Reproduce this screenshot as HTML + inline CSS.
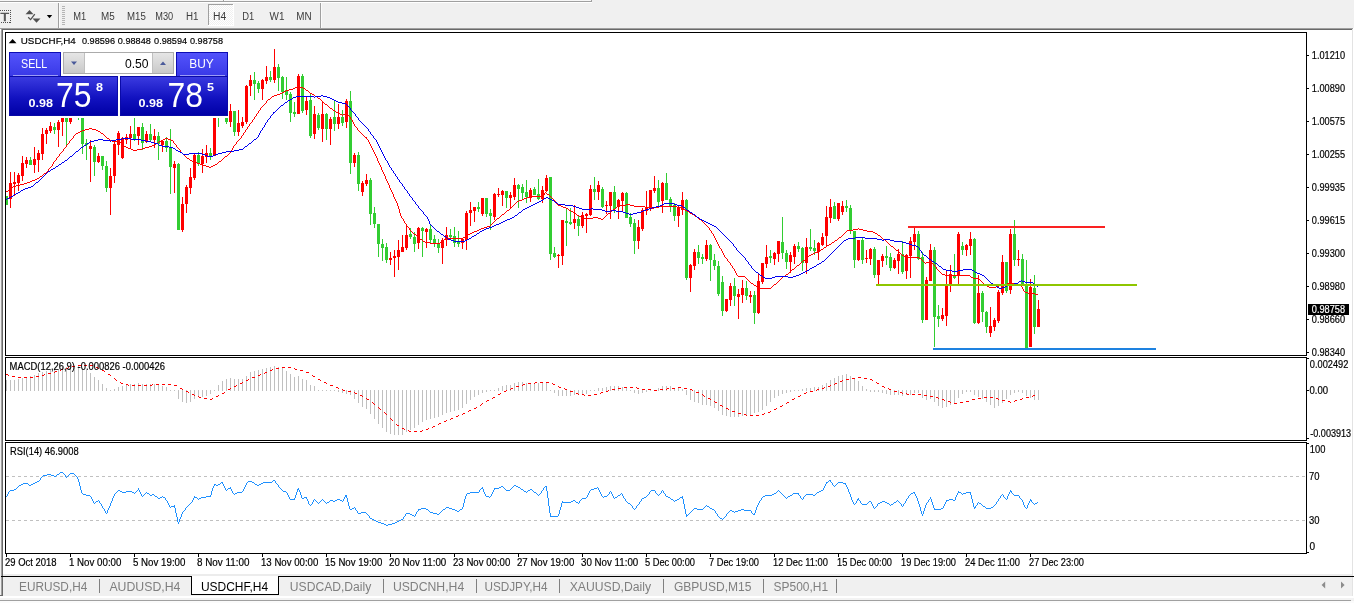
<!DOCTYPE html>
<html lang="en"><head><meta charset="utf-8"><title>USDCHF,H4</title>
<style>html,body{margin:0;padding:0;background:#f0f0f0;overflow:hidden}svg{display:block}text{font-family:"Liberation Sans", sans-serif;white-space:pre}</style>
</head><body>
<svg width="1354" height="603" viewBox="0 0 1354 603" shape-rendering="crispEdges">
<defs>
<linearGradient id="gBtn" x1="0" y1="0" x2="0" y2="1"><stop offset="0" stop-color="#5353fb"/><stop offset="1" stop-color="#3838e6"/></linearGradient>
<linearGradient id="gPrice" x1="0" y1="0" x2="0" y2="1"><stop offset="0" stop-color="#3a3ae0"/><stop offset="0.55" stop-color="#1212c0"/><stop offset="1" stop-color="#0000a6"/></linearGradient>
<linearGradient id="gSpin" x1="0" y1="0" x2="0" y2="1"><stop offset="0" stop-color="#e6e6e6"/><stop offset="1" stop-color="#c9c9c9"/></linearGradient>
<pattern id="chk" width="2" height="2" patternUnits="userSpaceOnUse"><rect width="2" height="2" fill="#fff"/><rect width="1" height="1" fill="#f0f0f0"/><rect x="1" y="1" width="1" height="1" fill="#f0f0f0"/></pattern>
<clipPath id="cMain"><rect x="6" y="33" width="1300" height="322"/></clipPath>
<clipPath id="cMacd"><rect x="6" y="358" width="1300" height="82"/></clipPath>
<clipPath id="cRsi"><rect x="6" y="443" width="1300" height="110"/></clipPath>
</defs>
<rect x="0" y="0" width="1354" height="603" fill="#f0f0f0"/>
<g id="toolbar">
<rect x="0" y="0" width="592" height="1" fill="#f7f7f7"/>
<rect x="0" y="1" width="592" height="1" fill="#a0a0a0"/>
<rect x="0" y="2" width="592" height="1" fill="#ffffff"/>
<rect x="223" y="0" width="1" height="2" fill="#a0a0a0"/>
<rect x="591" y="0" width="1" height="2" fill="#a0a0a0"/>
<rect x="224" y="0" width="1" height="1" fill="#fff"/>
<rect x="0" y="10" width="1" height="1" fill="#505050"/>
<rect x="2" y="10" width="1" height="1" fill="#505050"/>
<rect x="4" y="10" width="1" height="1" fill="#505050"/>
<rect x="6" y="10" width="1" height="1" fill="#505050"/>
<rect x="8" y="10" width="1" height="1" fill="#505050"/>
<rect x="10" y="10" width="1" height="1" fill="#505050"/>
<rect x="1" y="22" width="1" height="1" fill="#505050"/>
<rect x="3" y="22" width="1" height="1" fill="#505050"/>
<rect x="5" y="22" width="1" height="1" fill="#505050"/>
<rect x="7" y="22" width="1" height="1" fill="#505050"/>
<rect x="9" y="22" width="1" height="1" fill="#505050"/>
<rect x="10" y="12" width="1" height="1" fill="#505050"/>
<rect x="10" y="14" width="1" height="1" fill="#505050"/>
<rect x="10" y="16" width="1" height="1" fill="#505050"/>
<rect x="10" y="18" width="1" height="1" fill="#505050"/>
<rect x="10" y="20" width="1" height="1" fill="#505050"/>
<rect x="10" y="22" width="1" height="1" fill="#505050"/>
<text x="0.6" y="21" font-size="11.2" fill="#505050" textLength="8.6" lengthAdjust="spacingAndGlyphs" stroke="#505050" stroke-width="0.5">T</text>
<path d="M29.5 10 L33.5 14.2 L25.5 14.2 Z" fill="#505050" shape-rendering="geometricPrecision"/>
<path d="M36.5 22.8 L40.5 18.4 L32.5 18.4 Z" fill="#505050" shape-rendering="geometricPrecision"/>
<path d="M28.2 17.2 L30.6 19.6 L34.8 14.2" fill="none" stroke="#505050" stroke-width="1.3" shape-rendering="geometricPrecision"/>
<path d="M46.8 15 L52.2 15 L49.5 18.2 Z" fill="#000" shape-rendering="geometricPrecision"/>
<rect x="58" y="3" width="1" height="25" fill="#a0a0a0"/>
<rect x="59" y="3" width="1" height="25" fill="#fbfbfb"/>
<rect x="62" y="6" width="3" height="1" fill="#b4b4b4"/>
<rect x="62" y="8" width="3" height="1" fill="#b4b4b4"/>
<rect x="62" y="10" width="3" height="1" fill="#b4b4b4"/>
<rect x="62" y="12" width="3" height="1" fill="#b4b4b4"/>
<rect x="62" y="14" width="3" height="1" fill="#b4b4b4"/>
<rect x="62" y="16" width="3" height="1" fill="#b4b4b4"/>
<rect x="62" y="18" width="3" height="1" fill="#b4b4b4"/>
<rect x="62" y="20" width="3" height="1" fill="#b4b4b4"/>
<rect x="62" y="22" width="3" height="1" fill="#b4b4b4"/>
<rect x="62" y="24" width="3" height="1" fill="#b4b4b4"/>
<rect x="208" y="4" width="26" height="22" fill="url(#chk)"/>
<rect x="208" y="4" width="26" height="1" fill="#a0a0a0"/>
<rect x="208" y="4" width="1" height="22" fill="#a0a0a0"/>
<rect x="208" y="25" width="26" height="1" fill="#fff"/>
<rect x="233" y="4" width="1" height="22" fill="#fff"/>
<text x="73.3" y="20" font-size="10" fill="#3c3c3c" textLength="13.0" lengthAdjust="spacingAndGlyphs">M1</text>
<text x="101" y="20" font-size="10" fill="#3c3c3c" textLength="13.7" lengthAdjust="spacingAndGlyphs">M5</text>
<text x="127" y="20" font-size="10" fill="#3c3c3c" textLength="18.8" lengthAdjust="spacingAndGlyphs">M15</text>
<text x="155.3" y="20" font-size="10" fill="#3c3c3c" textLength="17.9" lengthAdjust="spacingAndGlyphs">M30</text>
<text x="186" y="20" font-size="10" fill="#3c3c3c" textLength="12.5" lengthAdjust="spacingAndGlyphs">H1</text>
<text x="213" y="20" font-size="10" fill="#3c3c3c" textLength="13.2" lengthAdjust="spacingAndGlyphs">H4</text>
<text x="242.2" y="20" font-size="10" fill="#3c3c3c" textLength="12.0" lengthAdjust="spacingAndGlyphs">D1</text>
<text x="269.6" y="20" font-size="10" fill="#3c3c3c" textLength="14.9" lengthAdjust="spacingAndGlyphs">W1</text>
<text x="296.2" y="20" font-size="10" fill="#3c3c3c" textLength="15.3" lengthAdjust="spacingAndGlyphs">MN</text>
<rect x="320" y="3" width="1" height="25" fill="#a0a0a0"/>
<rect x="321" y="3" width="1" height="25" fill="#fbfbfb"/>
</g>
<rect x="0" y="28" width="1353" height="1" fill="#a0a0a0"/>
<rect x="1" y="29" width="1351" height="1" fill="#696969"/>
<rect x="1" y="28" width="1" height="568" fill="#a0a0a0"/>
<rect x="2" y="29" width="1" height="567" fill="#696969"/>
<rect x="1352" y="29" width="1" height="567" fill="#e3e3e3"/>
<rect x="1353" y="28" width="1" height="568" fill="#ffffff"/>
<rect x="3" y="30" width="1349" height="546" fill="#ffffff"/>
<rect x="0" y="29" width="1" height="2" fill="#fff"/>
<rect x="3" y="574" width="1349" height="2" fill="#ececec"/>
<rect x="1" y="576" width="1353" height="1" fill="#000"/>
<rect x="0" y="595" width="3" height="1" fill="#696969"/>
<rect x="0" y="596" width="1354" height="2" fill="#ffffff"/>
<rect x="0" y="598" width="1354" height="2" fill="#f3f3f3"/>
<rect x="0" y="600" width="1351" height="1" fill="#a0a0a0"/>
<rect x="0" y="601" width="1354" height="2" fill="#fbfbfb"/>
<rect x="192" y="576" width="87" height="18" fill="#fff"/>
<rect x="191" y="576" width="1" height="19" fill="#000"/>
<rect x="278" y="576" width="1" height="19" fill="#000"/>
<rect x="191" y="594" width="88" height="1" fill="#000"/>
<text x="19.0" y="591" font-size="12" fill="#7f7f7f" textLength="68.3" lengthAdjust="spacingAndGlyphs">EURUSD,H4</text>
<text x="109.4" y="591" font-size="12" fill="#7f7f7f" textLength="71" lengthAdjust="spacingAndGlyphs">AUDUSD,H4</text>
<text x="200.9" y="591" font-size="12" fill="#000" textLength="67.3" lengthAdjust="spacingAndGlyphs">USDCHF,H4</text>
<text x="289.8" y="591" font-size="12" fill="#7f7f7f" textLength="81.5" lengthAdjust="spacingAndGlyphs">USDCAD,Daily</text>
<text x="392.9" y="591" font-size="12" fill="#7f7f7f" textLength="71.3" lengthAdjust="spacingAndGlyphs">USDCNH,H4</text>
<text x="484.4" y="591" font-size="12" fill="#7f7f7f" textLength="63.2" lengthAdjust="spacingAndGlyphs">USDJPY,H4</text>
<text x="569.7" y="591" font-size="12" fill="#7f7f7f" textLength="81.4" lengthAdjust="spacingAndGlyphs">XAUUSD,Daily</text>
<text x="673.9" y="591" font-size="12" fill="#7f7f7f" textLength="77.6" lengthAdjust="spacingAndGlyphs">GBPUSD,M15</text>
<text x="773.6" y="591" font-size="12" fill="#7f7f7f" textLength="54.5" lengthAdjust="spacingAndGlyphs">SP500,H1</text>
<rect x="99" y="579" width="1" height="14" fill="#808080"/>
<rect x="383" y="579" width="1" height="14" fill="#808080"/>
<rect x="476" y="579" width="1" height="14" fill="#808080"/>
<rect x="559" y="579" width="1" height="14" fill="#808080"/>
<rect x="663" y="579" width="1" height="14" fill="#808080"/>
<rect x="763" y="579" width="1" height="14" fill="#808080"/>
<rect x="836" y="579" width="1" height="14" fill="#808080"/>
<path d="M1325.2 581.5 L1325.2 588.5 L1321.6 585 Z" fill="#8c8c8c" shape-rendering="geometricPrecision"/>
<path d="M1341 581.5 L1341 588.5 L1344.6 585 Z" fill="#8c8c8c" shape-rendering="geometricPrecision"/>
<rect x="5" y="32" width="1302" height="1" fill="#000"/>
<rect x="5" y="355" width="1302" height="1" fill="#000"/>
<rect x="5" y="32" width="1" height="324" fill="#000"/>
<rect x="1306" y="32" width="1" height="324" fill="#000"/>
<rect x="5" y="357" width="1302" height="1" fill="#000"/>
<rect x="5" y="440" width="1302" height="1" fill="#000"/>
<rect x="5" y="357" width="1" height="84" fill="#000"/>
<rect x="1306" y="357" width="1" height="84" fill="#000"/>
<rect x="5" y="442" width="1302" height="1" fill="#000"/>
<rect x="5" y="553" width="1302" height="1" fill="#000"/>
<rect x="5" y="442" width="1" height="112" fill="#000"/>
<rect x="1306" y="442" width="1" height="112" fill="#000"/>
<g clip-path="url(#cMain)">
<rect x="6" y="196" width="1" height="9" fill="#32cd32"/>
<rect x="5" y="196" width="3" height="9" fill="#32cd32"/>
<rect x="10" y="172" width="1" height="36" fill="#ff0000"/>
<rect x="9" y="183" width="3" height="16" fill="#ff0000"/>
<rect x="14" y="172" width="1" height="24" fill="#ff0000"/>
<rect x="13" y="182" width="3" height="2" fill="#ff0000"/>
<rect x="18" y="173" width="1" height="18" fill="#ff0000"/>
<rect x="17" y="175" width="3" height="8" fill="#ff0000"/>
<rect x="22" y="156" width="1" height="25" fill="#ff0000"/>
<rect x="21" y="163" width="3" height="13" fill="#ff0000"/>
<rect x="26" y="157" width="1" height="11" fill="#ff0000"/>
<rect x="25" y="160" width="3" height="4" fill="#ff0000"/>
<rect x="30" y="157" width="1" height="8" fill="#32cd32"/>
<rect x="29" y="160" width="3" height="5" fill="#32cd32"/>
<rect x="34" y="147" width="1" height="26" fill="#ff0000"/>
<rect x="33" y="159" width="3" height="6" fill="#ff0000"/>
<rect x="38" y="150" width="1" height="22" fill="#ff0000"/>
<rect x="37" y="153" width="3" height="7" fill="#ff0000"/>
<rect x="42" y="128" width="1" height="32" fill="#ff0000"/>
<rect x="41" y="134" width="3" height="20" fill="#ff0000"/>
<rect x="46" y="128" width="1" height="16" fill="#ff0000"/>
<rect x="45" y="130" width="3" height="4" fill="#ff0000"/>
<rect x="50" y="122" width="1" height="11" fill="#ff0000"/>
<rect x="49" y="126" width="3" height="5" fill="#ff0000"/>
<rect x="54" y="123" width="1" height="11" fill="#32cd32"/>
<rect x="53" y="127" width="3" height="3" fill="#32cd32"/>
<rect x="58" y="120" width="1" height="27" fill="#ff0000"/>
<rect x="57" y="122" width="3" height="8" fill="#ff0000"/>
<rect x="62" y="110" width="1" height="26" fill="#ff0000"/>
<rect x="61" y="114" width="3" height="8" fill="#ff0000"/>
<rect x="66" y="108" width="1" height="39" fill="#32cd32"/>
<rect x="65" y="112" width="3" height="10" fill="#32cd32"/>
<rect x="70" y="106" width="1" height="18" fill="#ff0000"/>
<rect x="69" y="110" width="3" height="12" fill="#ff0000"/>
<rect x="74" y="104" width="1" height="13" fill="#ff0000"/>
<rect x="73" y="108" width="3" height="8" fill="#ff0000"/>
<rect x="78" y="104" width="1" height="16" fill="#32cd32"/>
<rect x="77" y="106" width="3" height="8" fill="#32cd32"/>
<rect x="82" y="108" width="1" height="46" fill="#32cd32"/>
<rect x="81" y="112" width="3" height="32" fill="#32cd32"/>
<rect x="86" y="139" width="1" height="21" fill="#32cd32"/>
<rect x="85" y="143" width="3" height="2" fill="#32cd32"/>
<rect x="90" y="140" width="1" height="42" fill="#ff0000"/>
<rect x="89" y="146" width="3" height="3" fill="#ff0000"/>
<rect x="94" y="145" width="1" height="31" fill="#32cd32"/>
<rect x="93" y="147" width="3" height="15" fill="#32cd32"/>
<rect x="98" y="153" width="1" height="10" fill="#ff0000"/>
<rect x="97" y="156" width="3" height="6" fill="#ff0000"/>
<rect x="102" y="156" width="1" height="14" fill="#32cd32"/>
<rect x="101" y="156" width="3" height="10" fill="#32cd32"/>
<rect x="106" y="161" width="1" height="31" fill="#32cd32"/>
<rect x="105" y="166" width="3" height="22" fill="#32cd32"/>
<rect x="110" y="168" width="1" height="47" fill="#ff0000"/>
<rect x="109" y="176" width="3" height="12" fill="#ff0000"/>
<rect x="114" y="141" width="1" height="42" fill="#ff0000"/>
<rect x="113" y="144" width="3" height="32" fill="#ff0000"/>
<rect x="118" y="131" width="1" height="24" fill="#ff0000"/>
<rect x="117" y="133" width="3" height="12" fill="#ff0000"/>
<rect x="122" y="137" width="1" height="22" fill="#ff0000"/>
<rect x="121" y="138" width="3" height="20" fill="#ff0000"/>
<rect x="126" y="134" width="1" height="10" fill="#ff0000"/>
<rect x="125" y="137" width="3" height="3" fill="#ff0000"/>
<rect x="130" y="126" width="1" height="23" fill="#ff0000"/>
<rect x="129" y="134" width="3" height="4" fill="#ff0000"/>
<rect x="134" y="112" width="1" height="29" fill="#32cd32"/>
<rect x="133" y="134" width="3" height="5" fill="#32cd32"/>
<rect x="138" y="127" width="1" height="18" fill="#ff0000"/>
<rect x="137" y="127" width="3" height="9" fill="#ff0000"/>
<rect x="142" y="123" width="1" height="27" fill="#32cd32"/>
<rect x="141" y="127" width="3" height="16" fill="#32cd32"/>
<rect x="146" y="131" width="1" height="12" fill="#ff0000"/>
<rect x="145" y="134" width="3" height="8" fill="#ff0000"/>
<rect x="150" y="124" width="1" height="17" fill="#32cd32"/>
<rect x="149" y="134" width="3" height="6" fill="#32cd32"/>
<rect x="154" y="129" width="1" height="19" fill="#ff0000"/>
<rect x="153" y="136" width="3" height="4" fill="#ff0000"/>
<rect x="158" y="132" width="1" height="28" fill="#32cd32"/>
<rect x="157" y="136" width="3" height="8" fill="#32cd32"/>
<rect x="162" y="140" width="1" height="12" fill="#ff0000"/>
<rect x="161" y="141" width="3" height="4" fill="#ff0000"/>
<rect x="166" y="137" width="1" height="15" fill="#32cd32"/>
<rect x="165" y="141" width="3" height="7" fill="#32cd32"/>
<rect x="170" y="129" width="1" height="65" fill="#32cd32"/>
<rect x="169" y="148" width="3" height="19" fill="#32cd32"/>
<rect x="174" y="161" width="1" height="32" fill="#ff0000"/>
<rect x="173" y="164" width="3" height="4" fill="#ff0000"/>
<rect x="178" y="163" width="1" height="67" fill="#32cd32"/>
<rect x="177" y="164" width="3" height="66" fill="#32cd32"/>
<rect x="182" y="197" width="1" height="35" fill="#ff0000"/>
<rect x="181" y="204" width="3" height="26" fill="#ff0000"/>
<rect x="186" y="185" width="1" height="28" fill="#ff0000"/>
<rect x="185" y="187" width="3" height="17" fill="#ff0000"/>
<rect x="190" y="168" width="1" height="26" fill="#ff0000"/>
<rect x="189" y="177" width="3" height="11" fill="#ff0000"/>
<rect x="194" y="153" width="1" height="27" fill="#ff0000"/>
<rect x="193" y="155" width="3" height="23" fill="#ff0000"/>
<rect x="198" y="152" width="1" height="14" fill="#32cd32"/>
<rect x="197" y="155" width="3" height="9" fill="#32cd32"/>
<rect x="202" y="149" width="1" height="24" fill="#ff0000"/>
<rect x="201" y="156" width="3" height="8" fill="#ff0000"/>
<rect x="206" y="145" width="1" height="18" fill="#ff0000"/>
<rect x="205" y="153" width="3" height="4" fill="#ff0000"/>
<rect x="210" y="148" width="1" height="12" fill="#32cd32"/>
<rect x="209" y="153" width="3" height="3" fill="#32cd32"/>
<rect x="214" y="108" width="1" height="48" fill="#ff0000"/>
<rect x="213" y="110" width="3" height="46" fill="#ff0000"/>
<rect x="218" y="106" width="1" height="21" fill="#32cd32"/>
<rect x="217" y="108" width="3" height="8" fill="#32cd32"/>
<rect x="222" y="104" width="1" height="12" fill="#ff0000"/>
<rect x="221" y="106" width="3" height="8" fill="#ff0000"/>
<rect x="226" y="108" width="1" height="16" fill="#32cd32"/>
<rect x="225" y="110" width="3" height="12" fill="#32cd32"/>
<rect x="230" y="104" width="1" height="23" fill="#ff0000"/>
<rect x="229" y="111" width="3" height="11" fill="#ff0000"/>
<rect x="234" y="111" width="1" height="25" fill="#32cd32"/>
<rect x="233" y="111" width="3" height="21" fill="#32cd32"/>
<rect x="238" y="110" width="1" height="26" fill="#ff0000"/>
<rect x="237" y="123" width="3" height="9" fill="#ff0000"/>
<rect x="242" y="117" width="1" height="11" fill="#ff0000"/>
<rect x="241" y="122" width="3" height="4" fill="#ff0000"/>
<rect x="246" y="85" width="1" height="39" fill="#ff0000"/>
<rect x="245" y="86" width="3" height="36" fill="#ff0000"/>
<rect x="250" y="75" width="1" height="21" fill="#ff0000"/>
<rect x="249" y="80" width="3" height="6" fill="#ff0000"/>
<rect x="254" y="72" width="1" height="28" fill="#32cd32"/>
<rect x="253" y="80" width="3" height="4" fill="#32cd32"/>
<rect x="258" y="81" width="1" height="12" fill="#32cd32"/>
<rect x="257" y="83" width="3" height="6" fill="#32cd32"/>
<rect x="262" y="79" width="1" height="21" fill="#ff0000"/>
<rect x="261" y="80" width="3" height="9" fill="#ff0000"/>
<rect x="266" y="66" width="1" height="18" fill="#ff0000"/>
<rect x="265" y="77" width="3" height="4" fill="#ff0000"/>
<rect x="270" y="71" width="1" height="11" fill="#32cd32"/>
<rect x="269" y="77" width="3" height="3" fill="#32cd32"/>
<rect x="274" y="49" width="1" height="34" fill="#ff0000"/>
<rect x="273" y="67" width="3" height="13" fill="#ff0000"/>
<rect x="278" y="64" width="1" height="27" fill="#32cd32"/>
<rect x="277" y="67" width="3" height="11" fill="#32cd32"/>
<rect x="282" y="76" width="1" height="23" fill="#32cd32"/>
<rect x="281" y="77" width="3" height="15" fill="#32cd32"/>
<rect x="286" y="77" width="1" height="23" fill="#32cd32"/>
<rect x="285" y="90" width="3" height="5" fill="#32cd32"/>
<rect x="290" y="92" width="1" height="30" fill="#32cd32"/>
<rect x="289" y="94" width="3" height="19" fill="#32cd32"/>
<rect x="294" y="102" width="1" height="15" fill="#32cd32"/>
<rect x="293" y="112" width="3" height="2" fill="#32cd32"/>
<rect x="298" y="74" width="1" height="40" fill="#ff0000"/>
<rect x="297" y="76" width="3" height="38" fill="#ff0000"/>
<rect x="302" y="74" width="1" height="39" fill="#32cd32"/>
<rect x="301" y="76" width="3" height="35" fill="#32cd32"/>
<rect x="306" y="96" width="1" height="19" fill="#ff0000"/>
<rect x="305" y="101" width="3" height="9" fill="#ff0000"/>
<rect x="310" y="94" width="1" height="44" fill="#32cd32"/>
<rect x="309" y="100" width="3" height="36" fill="#32cd32"/>
<rect x="314" y="106" width="1" height="33" fill="#ff0000"/>
<rect x="313" y="114" width="3" height="20" fill="#ff0000"/>
<rect x="318" y="113" width="1" height="17" fill="#32cd32"/>
<rect x="317" y="115" width="3" height="13" fill="#32cd32"/>
<rect x="322" y="101" width="1" height="41" fill="#ff0000"/>
<rect x="321" y="114" width="3" height="15" fill="#ff0000"/>
<rect x="326" y="113" width="1" height="27" fill="#32cd32"/>
<rect x="325" y="114" width="3" height="15" fill="#32cd32"/>
<rect x="330" y="117" width="1" height="28" fill="#ff0000"/>
<rect x="329" y="119" width="3" height="10" fill="#ff0000"/>
<rect x="334" y="100" width="1" height="31" fill="#32cd32"/>
<rect x="333" y="117" width="3" height="7" fill="#32cd32"/>
<rect x="338" y="104" width="1" height="25" fill="#ff0000"/>
<rect x="337" y="117" width="3" height="7" fill="#ff0000"/>
<rect x="342" y="110" width="1" height="16" fill="#32cd32"/>
<rect x="341" y="117" width="3" height="6" fill="#32cd32"/>
<rect x="346" y="99" width="1" height="29" fill="#ff0000"/>
<rect x="345" y="101" width="3" height="21" fill="#ff0000"/>
<rect x="350" y="91" width="1" height="83" fill="#32cd32"/>
<rect x="349" y="101" width="3" height="62" fill="#32cd32"/>
<rect x="354" y="153" width="1" height="14" fill="#ff0000"/>
<rect x="353" y="155" width="3" height="8" fill="#ff0000"/>
<rect x="358" y="152" width="1" height="39" fill="#32cd32"/>
<rect x="357" y="155" width="3" height="29" fill="#32cd32"/>
<rect x="362" y="181" width="1" height="15" fill="#ff0000"/>
<rect x="361" y="183" width="3" height="9" fill="#ff0000"/>
<rect x="366" y="174" width="1" height="12" fill="#ff0000"/>
<rect x="365" y="180" width="3" height="4" fill="#ff0000"/>
<rect x="370" y="178" width="1" height="47" fill="#32cd32"/>
<rect x="369" y="180" width="3" height="34" fill="#32cd32"/>
<rect x="374" y="207" width="1" height="21" fill="#32cd32"/>
<rect x="373" y="213" width="3" height="11" fill="#32cd32"/>
<rect x="378" y="224" width="1" height="33" fill="#32cd32"/>
<rect x="377" y="224" width="3" height="20" fill="#32cd32"/>
<rect x="382" y="239" width="1" height="22" fill="#32cd32"/>
<rect x="381" y="244" width="3" height="4" fill="#32cd32"/>
<rect x="386" y="243" width="1" height="20" fill="#32cd32"/>
<rect x="385" y="247" width="3" height="13" fill="#32cd32"/>
<rect x="390" y="252" width="1" height="13" fill="#ff0000"/>
<rect x="389" y="258" width="3" height="2" fill="#ff0000"/>
<rect x="394" y="250" width="1" height="27" fill="#ff0000"/>
<rect x="393" y="256" width="3" height="2" fill="#ff0000"/>
<rect x="398" y="240" width="1" height="30" fill="#ff0000"/>
<rect x="397" y="250" width="3" height="7" fill="#ff0000"/>
<rect x="402" y="235" width="1" height="17" fill="#ff0000"/>
<rect x="401" y="247" width="3" height="5" fill="#ff0000"/>
<rect x="406" y="225" width="1" height="25" fill="#ff0000"/>
<rect x="405" y="235" width="3" height="13" fill="#ff0000"/>
<rect x="410" y="228" width="1" height="11" fill="#32cd32"/>
<rect x="409" y="234" width="3" height="3" fill="#32cd32"/>
<rect x="414" y="232" width="1" height="20" fill="#32cd32"/>
<rect x="413" y="237" width="3" height="7" fill="#32cd32"/>
<rect x="418" y="227" width="1" height="22" fill="#ff0000"/>
<rect x="417" y="228" width="3" height="15" fill="#ff0000"/>
<rect x="422" y="227" width="1" height="30" fill="#32cd32"/>
<rect x="421" y="228" width="3" height="3" fill="#32cd32"/>
<rect x="426" y="228" width="1" height="20" fill="#ff0000"/>
<rect x="425" y="229" width="3" height="3" fill="#ff0000"/>
<rect x="430" y="224" width="1" height="20" fill="#32cd32"/>
<rect x="429" y="229" width="3" height="11" fill="#32cd32"/>
<rect x="434" y="235" width="1" height="12" fill="#32cd32"/>
<rect x="433" y="239" width="3" height="5" fill="#32cd32"/>
<rect x="438" y="239" width="1" height="14" fill="#32cd32"/>
<rect x="437" y="243" width="3" height="5" fill="#32cd32"/>
<rect x="442" y="238" width="1" height="26" fill="#ff0000"/>
<rect x="441" y="240" width="3" height="8" fill="#ff0000"/>
<rect x="446" y="227" width="1" height="19" fill="#ff0000"/>
<rect x="445" y="235" width="3" height="5" fill="#ff0000"/>
<rect x="450" y="229" width="1" height="11" fill="#32cd32"/>
<rect x="449" y="235" width="3" height="2" fill="#32cd32"/>
<rect x="454" y="227" width="1" height="20" fill="#32cd32"/>
<rect x="453" y="236" width="3" height="7" fill="#32cd32"/>
<rect x="458" y="231" width="1" height="16" fill="#32cd32"/>
<rect x="457" y="242" width="3" height="2" fill="#32cd32"/>
<rect x="462" y="238" width="1" height="11" fill="#ff0000"/>
<rect x="461" y="239" width="3" height="4" fill="#ff0000"/>
<rect x="466" y="211" width="1" height="39" fill="#ff0000"/>
<rect x="465" y="213" width="3" height="27" fill="#ff0000"/>
<rect x="470" y="202" width="1" height="24" fill="#ff0000"/>
<rect x="469" y="210" width="3" height="3" fill="#ff0000"/>
<rect x="474" y="207" width="1" height="15" fill="#ff0000"/>
<rect x="473" y="207" width="3" height="4" fill="#ff0000"/>
<rect x="478" y="202" width="1" height="10" fill="#32cd32"/>
<rect x="477" y="207" width="3" height="2" fill="#32cd32"/>
<rect x="482" y="198" width="1" height="18" fill="#ff0000"/>
<rect x="481" y="198" width="3" height="16" fill="#ff0000"/>
<rect x="486" y="198" width="1" height="19" fill="#32cd32"/>
<rect x="485" y="198" width="3" height="16" fill="#32cd32"/>
<rect x="490" y="209" width="1" height="21" fill="#32cd32"/>
<rect x="489" y="213" width="3" height="3" fill="#32cd32"/>
<rect x="494" y="193" width="1" height="27" fill="#ff0000"/>
<rect x="493" y="194" width="3" height="23" fill="#ff0000"/>
<rect x="498" y="188" width="1" height="9" fill="#ff0000"/>
<rect x="497" y="194" width="3" height="1" fill="#ff0000"/>
<rect x="502" y="190" width="1" height="16" fill="#ff0000"/>
<rect x="501" y="191" width="3" height="4" fill="#ff0000"/>
<rect x="506" y="191" width="1" height="17" fill="#32cd32"/>
<rect x="505" y="191" width="3" height="7" fill="#32cd32"/>
<rect x="510" y="192" width="1" height="16" fill="#ff0000"/>
<rect x="509" y="195" width="3" height="3" fill="#ff0000"/>
<rect x="514" y="178" width="1" height="22" fill="#ff0000"/>
<rect x="513" y="185" width="3" height="12" fill="#ff0000"/>
<rect x="518" y="184" width="1" height="24" fill="#32cd32"/>
<rect x="517" y="185" width="3" height="4" fill="#32cd32"/>
<rect x="522" y="184" width="1" height="16" fill="#32cd32"/>
<rect x="521" y="187" width="3" height="6" fill="#32cd32"/>
<rect x="526" y="180" width="1" height="23" fill="#32cd32"/>
<rect x="525" y="192" width="3" height="5" fill="#32cd32"/>
<rect x="530" y="188" width="1" height="14" fill="#ff0000"/>
<rect x="529" y="190" width="3" height="8" fill="#ff0000"/>
<rect x="534" y="187" width="1" height="8" fill="#32cd32"/>
<rect x="533" y="189" width="3" height="6" fill="#32cd32"/>
<rect x="538" y="179" width="1" height="21" fill="#32cd32"/>
<rect x="537" y="194" width="3" height="5" fill="#32cd32"/>
<rect x="542" y="186" width="1" height="17" fill="#ff0000"/>
<rect x="541" y="190" width="3" height="9" fill="#ff0000"/>
<rect x="546" y="175" width="1" height="17" fill="#ff0000"/>
<rect x="545" y="178" width="3" height="13" fill="#ff0000"/>
<rect x="550" y="177" width="1" height="83" fill="#32cd32"/>
<rect x="549" y="177" width="3" height="77" fill="#32cd32"/>
<rect x="554" y="247" width="1" height="11" fill="#32cd32"/>
<rect x="553" y="253" width="3" height="4" fill="#32cd32"/>
<rect x="558" y="254" width="1" height="14" fill="#ff0000"/>
<rect x="557" y="255" width="3" height="1" fill="#ff0000"/>
<rect x="562" y="220" width="1" height="45" fill="#ff0000"/>
<rect x="561" y="220" width="3" height="36" fill="#ff0000"/>
<rect x="566" y="209" width="1" height="37" fill="#32cd32"/>
<rect x="565" y="221" width="3" height="2" fill="#32cd32"/>
<rect x="570" y="208" width="1" height="17" fill="#32cd32"/>
<rect x="569" y="222" width="3" height="2" fill="#32cd32"/>
<rect x="574" y="205" width="1" height="24" fill="#ff0000"/>
<rect x="573" y="219" width="3" height="4" fill="#ff0000"/>
<rect x="578" y="216" width="1" height="20" fill="#32cd32"/>
<rect x="577" y="219" width="3" height="7" fill="#32cd32"/>
<rect x="582" y="212" width="1" height="16" fill="#ff0000"/>
<rect x="581" y="215" width="3" height="11" fill="#ff0000"/>
<rect x="586" y="213" width="1" height="20" fill="#ff0000"/>
<rect x="585" y="214" width="3" height="2" fill="#ff0000"/>
<rect x="590" y="185" width="1" height="31" fill="#ff0000"/>
<rect x="589" y="189" width="3" height="26" fill="#ff0000"/>
<rect x="594" y="177" width="1" height="23" fill="#32cd32"/>
<rect x="593" y="189" width="3" height="3" fill="#32cd32"/>
<rect x="598" y="181" width="1" height="19" fill="#ff0000"/>
<rect x="597" y="185" width="3" height="7" fill="#ff0000"/>
<rect x="602" y="187" width="1" height="21" fill="#32cd32"/>
<rect x="601" y="189" width="3" height="18" fill="#32cd32"/>
<rect x="606" y="201" width="1" height="13" fill="#ff0000"/>
<rect x="605" y="205" width="3" height="1" fill="#ff0000"/>
<rect x="610" y="192" width="1" height="27" fill="#ff0000"/>
<rect x="609" y="192" width="3" height="14" fill="#ff0000"/>
<rect x="614" y="186" width="1" height="27" fill="#32cd32"/>
<rect x="613" y="192" width="3" height="17" fill="#32cd32"/>
<rect x="618" y="199" width="1" height="20" fill="#ff0000"/>
<rect x="617" y="200" width="3" height="6" fill="#ff0000"/>
<rect x="622" y="192" width="1" height="20" fill="#ff0000"/>
<rect x="621" y="193" width="3" height="8" fill="#ff0000"/>
<rect x="626" y="192" width="1" height="26" fill="#32cd32"/>
<rect x="625" y="193" width="3" height="25" fill="#32cd32"/>
<rect x="630" y="213" width="1" height="14" fill="#32cd32"/>
<rect x="629" y="217" width="3" height="7" fill="#32cd32"/>
<rect x="634" y="219" width="1" height="35" fill="#32cd32"/>
<rect x="633" y="223" width="3" height="18" fill="#32cd32"/>
<rect x="638" y="220" width="1" height="29" fill="#ff0000"/>
<rect x="637" y="227" width="3" height="14" fill="#ff0000"/>
<rect x="642" y="208" width="1" height="23" fill="#ff0000"/>
<rect x="641" y="210" width="3" height="19" fill="#ff0000"/>
<rect x="646" y="191" width="1" height="24" fill="#ff0000"/>
<rect x="645" y="208" width="3" height="3" fill="#ff0000"/>
<rect x="650" y="190" width="1" height="21" fill="#ff0000"/>
<rect x="649" y="190" width="3" height="18" fill="#ff0000"/>
<rect x="654" y="176" width="1" height="17" fill="#ff0000"/>
<rect x="653" y="188" width="3" height="3" fill="#ff0000"/>
<rect x="658" y="180" width="1" height="26" fill="#32cd32"/>
<rect x="657" y="188" width="3" height="14" fill="#32cd32"/>
<rect x="662" y="182" width="1" height="31" fill="#ff0000"/>
<rect x="661" y="183" width="3" height="18" fill="#ff0000"/>
<rect x="666" y="173" width="1" height="27" fill="#32cd32"/>
<rect x="665" y="183" width="3" height="17" fill="#32cd32"/>
<rect x="670" y="197" width="1" height="15" fill="#32cd32"/>
<rect x="669" y="199" width="3" height="7" fill="#32cd32"/>
<rect x="674" y="203" width="1" height="18" fill="#32cd32"/>
<rect x="673" y="205" width="3" height="11" fill="#32cd32"/>
<rect x="678" y="206" width="1" height="21" fill="#ff0000"/>
<rect x="677" y="208" width="3" height="8" fill="#ff0000"/>
<rect x="682" y="192" width="1" height="23" fill="#ff0000"/>
<rect x="681" y="200" width="3" height="10" fill="#ff0000"/>
<rect x="686" y="199" width="1" height="81" fill="#32cd32"/>
<rect x="685" y="200" width="3" height="78" fill="#32cd32"/>
<rect x="690" y="264" width="1" height="28" fill="#ff0000"/>
<rect x="689" y="265" width="3" height="13" fill="#ff0000"/>
<rect x="694" y="249" width="1" height="21" fill="#ff0000"/>
<rect x="693" y="252" width="3" height="14" fill="#ff0000"/>
<rect x="698" y="245" width="1" height="19" fill="#32cd32"/>
<rect x="697" y="252" width="3" height="6" fill="#32cd32"/>
<rect x="702" y="254" width="1" height="10" fill="#32cd32"/>
<rect x="701" y="257" width="3" height="2" fill="#32cd32"/>
<rect x="706" y="240" width="1" height="21" fill="#ff0000"/>
<rect x="705" y="245" width="3" height="14" fill="#ff0000"/>
<rect x="710" y="244" width="1" height="37" fill="#32cd32"/>
<rect x="709" y="245" width="3" height="15" fill="#32cd32"/>
<rect x="714" y="254" width="1" height="16" fill="#32cd32"/>
<rect x="713" y="260" width="3" height="6" fill="#32cd32"/>
<rect x="718" y="261" width="1" height="35" fill="#32cd32"/>
<rect x="717" y="266" width="3" height="28" fill="#32cd32"/>
<rect x="722" y="276" width="1" height="40" fill="#32cd32"/>
<rect x="721" y="282" width="3" height="29" fill="#32cd32"/>
<rect x="726" y="299" width="1" height="13" fill="#ff0000"/>
<rect x="725" y="299" width="3" height="12" fill="#ff0000"/>
<rect x="730" y="283" width="1" height="23" fill="#ff0000"/>
<rect x="729" y="286" width="3" height="14" fill="#ff0000"/>
<rect x="734" y="278" width="1" height="28" fill="#32cd32"/>
<rect x="733" y="286" width="3" height="10" fill="#32cd32"/>
<rect x="738" y="289" width="1" height="30" fill="#ff0000"/>
<rect x="737" y="294" width="3" height="3" fill="#ff0000"/>
<rect x="742" y="280" width="1" height="23" fill="#ff0000"/>
<rect x="741" y="288" width="3" height="7" fill="#ff0000"/>
<rect x="746" y="281" width="1" height="19" fill="#32cd32"/>
<rect x="745" y="288" width="3" height="8" fill="#32cd32"/>
<rect x="750" y="291" width="1" height="12" fill="#ff0000"/>
<rect x="749" y="295" width="3" height="2" fill="#ff0000"/>
<rect x="754" y="291" width="1" height="33" fill="#32cd32"/>
<rect x="753" y="295" width="3" height="18" fill="#32cd32"/>
<rect x="758" y="274" width="1" height="40" fill="#ff0000"/>
<rect x="757" y="281" width="3" height="32" fill="#ff0000"/>
<rect x="762" y="263" width="1" height="21" fill="#ff0000"/>
<rect x="761" y="263" width="3" height="19" fill="#ff0000"/>
<rect x="766" y="245" width="1" height="23" fill="#ff0000"/>
<rect x="765" y="257" width="3" height="7" fill="#ff0000"/>
<rect x="770" y="250" width="1" height="13" fill="#32cd32"/>
<rect x="769" y="256" width="3" height="2" fill="#32cd32"/>
<rect x="774" y="252" width="1" height="13" fill="#ff0000"/>
<rect x="773" y="253" width="3" height="6" fill="#ff0000"/>
<rect x="778" y="241" width="1" height="21" fill="#ff0000"/>
<rect x="777" y="241" width="3" height="13" fill="#ff0000"/>
<rect x="782" y="217" width="1" height="42" fill="#32cd32"/>
<rect x="781" y="242" width="3" height="11" fill="#32cd32"/>
<rect x="786" y="250" width="1" height="19" fill="#32cd32"/>
<rect x="785" y="253" width="3" height="9" fill="#32cd32"/>
<rect x="790" y="252" width="1" height="21" fill="#ff0000"/>
<rect x="789" y="255" width="3" height="7" fill="#ff0000"/>
<rect x="794" y="244" width="1" height="20" fill="#ff0000"/>
<rect x="793" y="246" width="3" height="11" fill="#ff0000"/>
<rect x="798" y="242" width="1" height="10" fill="#32cd32"/>
<rect x="797" y="246" width="3" height="3" fill="#32cd32"/>
<rect x="802" y="247" width="1" height="24" fill="#32cd32"/>
<rect x="801" y="248" width="3" height="15" fill="#32cd32"/>
<rect x="806" y="238" width="1" height="36" fill="#ff0000"/>
<rect x="805" y="247" width="3" height="16" fill="#ff0000"/>
<rect x="810" y="229" width="1" height="22" fill="#32cd32"/>
<rect x="809" y="247" width="3" height="2" fill="#32cd32"/>
<rect x="814" y="240" width="1" height="15" fill="#32cd32"/>
<rect x="813" y="248" width="3" height="3" fill="#32cd32"/>
<rect x="818" y="242" width="1" height="18" fill="#ff0000"/>
<rect x="817" y="243" width="3" height="9" fill="#ff0000"/>
<rect x="822" y="233" width="1" height="13" fill="#ff0000"/>
<rect x="821" y="237" width="3" height="8" fill="#ff0000"/>
<rect x="826" y="206" width="1" height="40" fill="#ff0000"/>
<rect x="825" y="217" width="3" height="19" fill="#ff0000"/>
<rect x="830" y="199" width="1" height="24" fill="#ff0000"/>
<rect x="829" y="207" width="3" height="11" fill="#ff0000"/>
<rect x="834" y="202" width="1" height="17" fill="#32cd32"/>
<rect x="833" y="206" width="3" height="13" fill="#32cd32"/>
<rect x="838" y="203" width="1" height="18" fill="#ff0000"/>
<rect x="837" y="203" width="3" height="16" fill="#ff0000"/>
<rect x="842" y="201" width="1" height="14" fill="#ff0000"/>
<rect x="841" y="206" width="3" height="6" fill="#ff0000"/>
<rect x="846" y="200" width="1" height="12" fill="#32cd32"/>
<rect x="845" y="206" width="3" height="2" fill="#32cd32"/>
<rect x="850" y="205" width="1" height="29" fill="#32cd32"/>
<rect x="849" y="208" width="3" height="23" fill="#32cd32"/>
<rect x="854" y="231" width="1" height="37" fill="#32cd32"/>
<rect x="853" y="231" width="3" height="29" fill="#32cd32"/>
<rect x="858" y="240" width="1" height="21" fill="#ff0000"/>
<rect x="857" y="240" width="3" height="20" fill="#ff0000"/>
<rect x="862" y="238" width="1" height="26" fill="#32cd32"/>
<rect x="861" y="240" width="3" height="20" fill="#32cd32"/>
<rect x="866" y="250" width="1" height="13" fill="#ff0000"/>
<rect x="865" y="258" width="3" height="1" fill="#ff0000"/>
<rect x="870" y="248" width="1" height="17" fill="#ff0000"/>
<rect x="869" y="249" width="3" height="10" fill="#ff0000"/>
<rect x="874" y="247" width="1" height="31" fill="#32cd32"/>
<rect x="873" y="249" width="3" height="26" fill="#32cd32"/>
<rect x="878" y="260" width="1" height="24" fill="#ff0000"/>
<rect x="877" y="260" width="3" height="15" fill="#ff0000"/>
<rect x="882" y="254" width="1" height="13" fill="#ff0000"/>
<rect x="881" y="256" width="3" height="5" fill="#ff0000"/>
<rect x="886" y="246" width="1" height="19" fill="#32cd32"/>
<rect x="885" y="256" width="3" height="2" fill="#32cd32"/>
<rect x="890" y="253" width="1" height="18" fill="#32cd32"/>
<rect x="889" y="257" width="3" height="11" fill="#32cd32"/>
<rect x="894" y="258" width="1" height="11" fill="#ff0000"/>
<rect x="893" y="260" width="3" height="8" fill="#ff0000"/>
<rect x="898" y="249" width="1" height="25" fill="#ff0000"/>
<rect x="897" y="254" width="3" height="7" fill="#ff0000"/>
<rect x="902" y="241" width="1" height="33" fill="#32cd32"/>
<rect x="901" y="254" width="3" height="18" fill="#32cd32"/>
<rect x="906" y="254" width="1" height="25" fill="#ff0000"/>
<rect x="905" y="255" width="3" height="16" fill="#ff0000"/>
<rect x="910" y="237" width="1" height="41" fill="#ff0000"/>
<rect x="909" y="241" width="3" height="15" fill="#ff0000"/>
<rect x="914" y="228" width="1" height="22" fill="#ff0000"/>
<rect x="913" y="234" width="3" height="8" fill="#ff0000"/>
<rect x="918" y="231" width="1" height="29" fill="#32cd32"/>
<rect x="917" y="234" width="3" height="25" fill="#32cd32"/>
<rect x="922" y="252" width="1" height="71" fill="#32cd32"/>
<rect x="921" y="257" width="3" height="63" fill="#32cd32"/>
<rect x="926" y="277" width="1" height="43" fill="#ff0000"/>
<rect x="925" y="280" width="3" height="40" fill="#ff0000"/>
<rect x="930" y="244" width="1" height="37" fill="#ff0000"/>
<rect x="929" y="250" width="3" height="31" fill="#ff0000"/>
<rect x="934" y="247" width="1" height="100" fill="#32cd32"/>
<rect x="933" y="250" width="3" height="67" fill="#32cd32"/>
<rect x="938" y="305" width="1" height="22" fill="#32cd32"/>
<rect x="937" y="316" width="3" height="3" fill="#32cd32"/>
<rect x="942" y="308" width="1" height="13" fill="#ff0000"/>
<rect x="941" y="315" width="3" height="4" fill="#ff0000"/>
<rect x="946" y="271" width="1" height="55" fill="#ff0000"/>
<rect x="945" y="285" width="3" height="31" fill="#ff0000"/>
<rect x="950" y="265" width="1" height="27" fill="#ff0000"/>
<rect x="949" y="274" width="3" height="10" fill="#ff0000"/>
<rect x="954" y="254" width="1" height="25" fill="#32cd32"/>
<rect x="953" y="275" width="3" height="3" fill="#32cd32"/>
<rect x="958" y="232" width="1" height="52" fill="#ff0000"/>
<rect x="957" y="234" width="3" height="42" fill="#ff0000"/>
<rect x="962" y="242" width="1" height="13" fill="#32cd32"/>
<rect x="961" y="246" width="3" height="4" fill="#32cd32"/>
<rect x="966" y="244" width="1" height="12" fill="#ff0000"/>
<rect x="965" y="245" width="3" height="5" fill="#ff0000"/>
<rect x="970" y="232" width="1" height="23" fill="#ff0000"/>
<rect x="969" y="239" width="3" height="7" fill="#ff0000"/>
<rect x="974" y="238" width="1" height="86" fill="#32cd32"/>
<rect x="973" y="239" width="3" height="84" fill="#32cd32"/>
<rect x="978" y="275" width="1" height="49" fill="#ff0000"/>
<rect x="977" y="293" width="3" height="30" fill="#ff0000"/>
<rect x="982" y="291" width="1" height="31" fill="#32cd32"/>
<rect x="981" y="293" width="3" height="19" fill="#32cd32"/>
<rect x="986" y="311" width="1" height="22" fill="#32cd32"/>
<rect x="985" y="312" width="3" height="15" fill="#32cd32"/>
<rect x="990" y="307" width="1" height="30" fill="#ff0000"/>
<rect x="989" y="326" width="3" height="7" fill="#ff0000"/>
<rect x="994" y="318" width="1" height="13" fill="#ff0000"/>
<rect x="993" y="320" width="3" height="7" fill="#ff0000"/>
<rect x="998" y="290" width="1" height="33" fill="#ff0000"/>
<rect x="997" y="292" width="3" height="29" fill="#ff0000"/>
<rect x="1002" y="255" width="1" height="40" fill="#ff0000"/>
<rect x="1001" y="262" width="3" height="31" fill="#ff0000"/>
<rect x="1006" y="262" width="1" height="31" fill="#32cd32"/>
<rect x="1005" y="262" width="3" height="29" fill="#32cd32"/>
<rect x="1010" y="229" width="1" height="65" fill="#ff0000"/>
<rect x="1009" y="234" width="3" height="56" fill="#ff0000"/>
<rect x="1014" y="220" width="1" height="46" fill="#32cd32"/>
<rect x="1013" y="234" width="3" height="26" fill="#32cd32"/>
<rect x="1018" y="250" width="1" height="16" fill="#ff0000"/>
<rect x="1017" y="259" width="3" height="1" fill="#ff0000"/>
<rect x="1022" y="254" width="1" height="32" fill="#32cd32"/>
<rect x="1021" y="259" width="3" height="27" fill="#32cd32"/>
<rect x="1026" y="260" width="1" height="88" fill="#32cd32"/>
<rect x="1025" y="285" width="3" height="63" fill="#32cd32"/>
<rect x="1030" y="279" width="1" height="68" fill="#ff0000"/>
<rect x="1029" y="287" width="3" height="60" fill="#ff0000"/>
<rect x="1034" y="275" width="1" height="59" fill="#32cd32"/>
<rect x="1033" y="288" width="3" height="39" fill="#32cd32"/>
<rect x="1038" y="300" width="1" height="27" fill="#ff0000"/>
<rect x="1037" y="309" width="3" height="18" fill="#ff0000"/>
</g>
<g clip-path="url(#cMain)">
<path d="M5.5 192V193M6.5 191V192M7.5 191V192M8.5 190V191M9.5 189V190M10.5 188V189M11.5 187V188M12.5 187V188M13.5 186V187M14.5 186V187M15.5 186V187M16.5 185V186M17.5 185V186M18.5 185V186M19.5 185V186M20.5 184V185M21.5 184V185M22.5 184V185M23.5 184V185M24.5 183V184M25.5 183V184M26.5 183V184M27.5 182V183M28.5 182V183M29.5 182V183M30.5 181V182M31.5 181V182M32.5 180V181M33.5 180V181M34.5 180V181M35.5 179V180M36.5 179V180M37.5 178V179M38.5 178V179M39.5 177V178M40.5 176V177M41.5 176V177M42.5 175V176M43.5 174V175M44.5 173V174M45.5 173V174M46.5 172V173M47.5 171V172M48.5 169V171M49.5 168V169M50.5 167V168M51.5 166V167M52.5 164V166M53.5 162V164M54.5 161V162M55.5 160V161M56.5 158V160M57.5 157V158M58.5 156V157M59.5 154V156M60.5 153V154M61.5 152V153M62.5 151V152M63.5 149V151M64.5 148V149M65.5 147V148M66.5 145V147M67.5 144V145M68.5 143V144M69.5 141V143M70.5 140V141M71.5 139V140M72.5 138V139M73.5 136V138M74.5 135V136M75.5 134V135M76.5 133V134M77.5 133V134M78.5 132V133M79.5 132V133M80.5 131V132M81.5 131V132M82.5 130V131M83.5 130V131M84.5 130V131M85.5 129V130M86.5 129V130M87.5 129V130M88.5 129V130M89.5 128V129M90.5 128V129M91.5 128V129M92.5 129V130M93.5 129V130M94.5 129V130M95.5 129V130M96.5 130V131M97.5 130V131M98.5 131V132M99.5 131V132M100.5 132V133M101.5 133V134M102.5 133V134M103.5 134V135M104.5 135V136M105.5 136V137M106.5 137V138M107.5 138V139M108.5 138V139M109.5 139V140M110.5 140V141M111.5 140V141M112.5 141V142M113.5 141V142M114.5 141V142M115.5 141V142M116.5 141V142M117.5 141V142M118.5 142V143M119.5 142V143M120.5 142V143M121.5 143V144M122.5 144V145M123.5 145V146M124.5 146V147M125.5 146V147M126.5 147V148M127.5 147V148M128.5 148V149M129.5 148V149M130.5 148V149M131.5 149V150M132.5 149V150M133.5 150V151M134.5 150V151M135.5 150V151M136.5 150V151M137.5 149V150M138.5 149V150M139.5 149V150M140.5 149V150M141.5 149V150M142.5 148V149M143.5 148V149M144.5 148V149M145.5 147V148M146.5 147V148M147.5 147V148M148.5 147V148M149.5 146V147M150.5 146V147M151.5 146V147M152.5 145V146M153.5 145V146M154.5 144V145M155.5 144V145M156.5 143V144M157.5 143V144M158.5 142V143M159.5 141V142M160.5 141V142M161.5 140V141M162.5 140V141M163.5 139V140M164.5 139V140M165.5 138V139M166.5 138V139M167.5 138V139M168.5 139V140M169.5 139V140M170.5 139V140M171.5 140V141M172.5 140V141M173.5 141V143M174.5 143V144M175.5 144V145M176.5 145V147M177.5 147V148M178.5 148V149M179.5 149V150M180.5 150V152M181.5 152V153M182.5 153V154M183.5 154V155M184.5 155V156M185.5 156V157M186.5 157V158M187.5 158V159M188.5 158V159M189.5 159V160M190.5 160V161M191.5 160V161M192.5 161V162M193.5 161V162M194.5 162V163M195.5 162V163M196.5 162V163M197.5 163V164M198.5 163V164M199.5 163V164M200.5 164V165M201.5 164V165M202.5 164V165M203.5 165V166M204.5 165V166M205.5 165V166M206.5 166V167M207.5 166V167M208.5 166V167M209.5 167V168M210.5 167V168M211.5 166V167M212.5 166V167M213.5 165V166M214.5 165V166M215.5 164V165M216.5 164V165M217.5 163V164M218.5 162V163M219.5 161V162M220.5 161V162M221.5 160V161M222.5 159V160M223.5 158V159M224.5 157V158M225.5 156V157M226.5 156V157M227.5 155V156M228.5 154V155M229.5 153V154M230.5 152V153M231.5 150V152M232.5 148V150M233.5 146V148M234.5 145V146M235.5 144V145M236.5 142V144M237.5 141V142M238.5 140V141M239.5 139V140M240.5 138V139M241.5 136V138M242.5 135V136M243.5 133V135M244.5 132V133M245.5 130V132M246.5 129V130M247.5 127V129M248.5 126V127M249.5 124V126M250.5 123V124M251.5 122V123M252.5 120V122M253.5 119V120M254.5 117V119M255.5 116V117M256.5 114V116M257.5 113V114M258.5 111V113M259.5 110V111M260.5 108V110M261.5 107V108M262.5 106V107M263.5 105V106M264.5 104V105M265.5 103V104M266.5 101V103M267.5 100V101M268.5 99V100M269.5 99V100M270.5 98V99M271.5 97V98M272.5 96V97M273.5 96V97M274.5 95V96M275.5 95V96M276.5 95V96M277.5 94V95M278.5 94V95M279.5 94V95M280.5 93V94M281.5 93V94M282.5 92V93M283.5 92V93M284.5 91V92M285.5 91V92M286.5 90V91M287.5 90V91M288.5 90V91M289.5 89V90M290.5 89V90M291.5 89V90M292.5 89V90M293.5 88V89M294.5 88V89M295.5 87V88M296.5 87V88M297.5 86V87M298.5 86V87M299.5 86V87M300.5 87V88M301.5 87V88M302.5 87V88M303.5 88V89M304.5 88V89M305.5 89V90M306.5 90V91M307.5 90V91M308.5 91V92M309.5 92V93M310.5 93V94M311.5 93V94M312.5 94V95M313.5 94V95M314.5 95V96M315.5 96V97M316.5 96V97M317.5 97V98M318.5 98V99M319.5 98V99M320.5 99V100M321.5 100V101M322.5 101V102M323.5 102V103M324.5 103V104M325.5 104V105M326.5 104V105M327.5 105V106M328.5 106V107M329.5 107V108M330.5 108V109M331.5 108V109M332.5 109V110M333.5 110V111M334.5 110V111M335.5 111V112M336.5 112V113M337.5 112V113M338.5 113V114M339.5 113V114M340.5 114V115M341.5 114V115M342.5 115V116M343.5 114V115M344.5 114V115M345.5 113V114M346.5 113V114M347.5 113V115M348.5 115V116M349.5 116V117M350.5 117V119M351.5 119V120M352.5 120V122M353.5 122V124M354.5 124V126M355.5 126V127M356.5 127V128M357.5 128V130M358.5 130V131M359.5 131V132M360.5 132V133M361.5 133V134M362.5 134V135M363.5 135V136M364.5 136V137M365.5 137V138M366.5 137V139M367.5 139V140M368.5 140V142M369.5 142V144M370.5 144V146M371.5 146V148M372.5 148V150M373.5 150V152M374.5 152V154M375.5 154V156M376.5 156V158M377.5 158V161M378.5 161V163M379.5 163V165M380.5 165V167M381.5 167V170M382.5 170V172M383.5 172V174M384.5 174V176M385.5 176V179M386.5 179V181M387.5 181V183M388.5 183V185M389.5 185V188M390.5 188V190M391.5 190V192M392.5 192V194M393.5 194V197M394.5 197V199M395.5 199V201M396.5 201V203M397.5 203V206M398.5 206V209M399.5 209V213M400.5 213V216M401.5 216V218M402.5 218V219M403.5 219V221M404.5 221V223M405.5 223V224M406.5 224V226M407.5 226V227M408.5 227V228M409.5 228V230M410.5 230V231M411.5 231V232M412.5 232V233M413.5 233V234M414.5 234V235M415.5 234V235M416.5 235V236M417.5 236V237M418.5 237V238M419.5 238V239M420.5 239V240M421.5 239V240M422.5 240V241M423.5 241V242M424.5 241V242M425.5 242V243M426.5 242V243M427.5 242V243M428.5 242V243M429.5 242V243M430.5 243V244M431.5 243V244M432.5 243V244M433.5 243V244M434.5 243V244M435.5 243V244M436.5 243V244M437.5 243V244M438.5 243V244M439.5 243V244M440.5 242V243M441.5 241V242M442.5 241V242M443.5 240V241M444.5 239V240M445.5 238V239M446.5 238V239M447.5 238V239M448.5 238V239M449.5 238V239M450.5 238V239M451.5 238V239M452.5 238V239M453.5 238V239M454.5 238V239M455.5 238V239M456.5 238V239M457.5 238V239M458.5 238V239M459.5 238V239M460.5 238V239M461.5 238V239M462.5 238V239M463.5 237V238M464.5 237V238M465.5 237V238M466.5 236V237M467.5 235V236M468.5 234V235M469.5 234V235M470.5 233V234M471.5 233V234M472.5 232V233M473.5 232V233M474.5 231V232M475.5 231V232M476.5 231V232M477.5 230V231M478.5 230V231M479.5 229V230M480.5 229V230M481.5 228V229M482.5 228V229M483.5 228V229M484.5 227V228M485.5 227V228M486.5 227V228M487.5 226V227M488.5 226V227M489.5 226V227M490.5 225V226M491.5 224V225M492.5 223V224M493.5 222V223M494.5 221V222M495.5 220V221M496.5 219V220M497.5 218V219M498.5 218V219M499.5 217V218M500.5 216V217M501.5 215V216M502.5 214V215M503.5 214V215M504.5 213V214M505.5 212V213M506.5 211V212M507.5 210V211M508.5 210V211M509.5 209V210M510.5 208V209M511.5 207V208M512.5 206V207M513.5 205V206M514.5 204V205M515.5 203V204M516.5 202V203M517.5 201V202M518.5 201V202M519.5 200V201M520.5 200V201M521.5 200V201M522.5 199V200M523.5 199V200M524.5 198V199M525.5 198V199M526.5 198V199M527.5 197V198M528.5 197V198M529.5 197V198M530.5 196V197M531.5 196V197M532.5 196V197M533.5 196V197M534.5 196V197M535.5 196V197M536.5 196V197M537.5 196V197M538.5 196V197M539.5 196V197M540.5 196V197M541.5 196V197M542.5 196V197M543.5 195V196M544.5 193V195M545.5 192V193M546.5 193V194M547.5 194V195M548.5 194V195M549.5 195V196M550.5 196V197M551.5 197V198M552.5 198V199M553.5 199V200M554.5 200V201M555.5 201V202M556.5 202V204M557.5 204V205M558.5 205V206M559.5 205V206M560.5 205V206M561.5 206V207M562.5 206V207M563.5 207V208M564.5 207V208M565.5 207V208M566.5 208V209M567.5 208V209M568.5 209V210M569.5 210V211M570.5 210V211M571.5 211V212M572.5 211V212M573.5 212V213M574.5 213V214M575.5 213V214M576.5 214V215M577.5 215V216M578.5 215V216M579.5 216V217M580.5 216V217M581.5 217V218M582.5 217V218M583.5 217V218M584.5 218V219M585.5 218V219M586.5 218V219M587.5 218V219M588.5 218V219M589.5 218V219M590.5 218V219M591.5 218V219M592.5 218V219M593.5 217V218M594.5 217V218M595.5 217V218M596.5 217V218M597.5 217V218M598.5 218V219M599.5 218V219M600.5 218V219M601.5 219V220M602.5 219V220M603.5 218V219M604.5 217V218M605.5 216V217M606.5 215V216M607.5 214V215M608.5 213V214M609.5 213V214M610.5 212V213M611.5 211V212M612.5 210V211M613.5 209V210M614.5 209V210M615.5 208V209M616.5 207V208M617.5 206V207M618.5 206V207M619.5 206V207M620.5 205V206M621.5 205V206M622.5 205V206M623.5 205V206M624.5 205V206M625.5 205V206M626.5 204V205M627.5 204V205M628.5 204V205M629.5 204V205M630.5 205V206M631.5 205V206M632.5 205V206M633.5 205V206M634.5 206V207M635.5 206V207M636.5 206V207M637.5 206V207M638.5 206V207M639.5 206V207M640.5 206V207M641.5 206V207M642.5 206V207M643.5 206V207M644.5 206V207M645.5 207V208M646.5 207V208M647.5 207V208M648.5 207V208M649.5 207V208M650.5 208V209M651.5 208V209M652.5 208V209M653.5 208V209M654.5 207V208M655.5 207V208M656.5 207V208M657.5 207V208M658.5 207V208M659.5 206V207M660.5 206V207M661.5 206V207M662.5 206V207M663.5 206V207M664.5 206V207M665.5 206V207M666.5 206V207M667.5 206V207M668.5 206V207M669.5 206V207M670.5 206V207M671.5 206V207M672.5 206V207M673.5 206V207M674.5 206V207M675.5 206V207M676.5 206V207M677.5 207V208M678.5 207V208M679.5 207V208M680.5 207V208M681.5 207V208M682.5 208V209M683.5 208V209M684.5 209V210M685.5 210V211M686.5 210V211M687.5 211V212M688.5 211V212M689.5 212V213M690.5 213V214M691.5 213V214M692.5 214V215M693.5 214V215M694.5 215V216M695.5 216V217M696.5 216V217M697.5 217V218M698.5 218V219M699.5 219V220M700.5 219V220M701.5 220V221M702.5 221V222M703.5 222V223M704.5 223V224M705.5 224V225M706.5 225V226M707.5 226V227M708.5 227V228M709.5 228V230M710.5 230V231M711.5 231V233M712.5 233V234M713.5 234V236M714.5 236V238M715.5 238V240M716.5 240V242M717.5 242V244M718.5 244V246M719.5 246V248M720.5 248V249M721.5 249V251M722.5 251V253M723.5 253V255M724.5 255V257M725.5 257V258M726.5 258V259M727.5 259V261M728.5 261V262M729.5 262V263M730.5 263V265M731.5 265V266M732.5 266V268M733.5 268V269M734.5 269V271M735.5 271V273M736.5 273V275M737.5 275V276M738.5 276V277M739.5 276V277M740.5 276V277M741.5 276V277M742.5 276V277M743.5 276V277M744.5 276V277M745.5 277V278M746.5 278V279M747.5 279V280M748.5 280V281M749.5 281V282M750.5 282V283M751.5 283V284M752.5 283V284M753.5 284V285M754.5 285V286M755.5 285V286M756.5 286V287M757.5 286V287M758.5 287V288M759.5 287V288M760.5 288V289M761.5 288V289M762.5 288V289M763.5 288V289M764.5 288V289M765.5 288V289M766.5 288V289M767.5 288V289M768.5 288V289M769.5 288V289M770.5 288V289M771.5 287V288M772.5 286V287M773.5 285V286M774.5 284V285M775.5 284V285M776.5 283V284M777.5 282V283M778.5 281V282M779.5 280V281M780.5 279V280M781.5 278V279M782.5 277V278M783.5 276V277M784.5 276V277M785.5 275V276M786.5 274V275M787.5 274V275M788.5 273V274M789.5 272V273M790.5 271V272M791.5 270V271M792.5 269V270M793.5 269V270M794.5 268V269M795.5 267V268M796.5 266V267M797.5 265V266M798.5 265V266M799.5 264V265M800.5 263V264M801.5 262V263M802.5 261V262M803.5 260V261M804.5 260V261M805.5 259V260M806.5 258V259M807.5 257V258M808.5 256V257M809.5 255V256M810.5 255V256M811.5 254V255M812.5 254V255M813.5 253V254M814.5 253V254M815.5 252V253M816.5 252V253M817.5 252V253M818.5 251V252M819.5 251V252M820.5 250V251M821.5 249V250M822.5 249V250M823.5 248V249M824.5 247V248M825.5 247V248M826.5 246V247M827.5 245V246M828.5 245V246M829.5 244V245M830.5 244V245M831.5 243V244M832.5 242V243M833.5 242V243M834.5 241V242M835.5 240V241M836.5 240V241M837.5 239V240M838.5 238V239M839.5 237V238M840.5 237V238M841.5 236V237M842.5 235V236M843.5 234V235M844.5 233V234M845.5 232V233M846.5 231V232M847.5 230V231M848.5 230V231M849.5 230V231M850.5 230V231M851.5 230V231M852.5 230V231M853.5 229V230M854.5 229V230M855.5 229V230M856.5 229V230M857.5 229V230M858.5 228V229M859.5 229V230M860.5 229V230M861.5 229V230M862.5 229V230M863.5 230V231M864.5 230V231M865.5 230V231M866.5 230V231M867.5 231V232M868.5 231V232M869.5 231V232M870.5 231V232M871.5 231V232M872.5 231V232M873.5 232V233M874.5 232V233M875.5 233V234M876.5 233V234M877.5 234V235M878.5 235V236M879.5 235V236M880.5 236V237M881.5 237V238M882.5 238V239M883.5 239V240M884.5 239V240M885.5 240V241M886.5 241V242M887.5 242V243M888.5 243V244M889.5 244V245M890.5 245V246M891.5 246V247M892.5 246V247M893.5 247V248M894.5 248V249M895.5 249V250M896.5 250V251M897.5 250V251M898.5 251V252M899.5 252V253M900.5 253V254M901.5 254V255M902.5 255V256M903.5 255V256M904.5 256V257M905.5 256V257M906.5 257V258M907.5 257V258M908.5 257V258M909.5 257V258M910.5 257V258M911.5 257V258M912.5 257V258M913.5 257V258M914.5 257V258M915.5 257V258M916.5 257V258M917.5 257V258M918.5 257V258M919.5 258V259M920.5 258V259M921.5 259V260M922.5 260V261M923.5 261V262M924.5 262V263M925.5 263V264M926.5 262V263M927.5 262V263M928.5 262V263M929.5 262V263M930.5 261V262M931.5 262V263M932.5 263V264M933.5 264V265M934.5 265V266M935.5 266V267M936.5 267V269M937.5 269V270M938.5 270V271M939.5 271V272M940.5 272V273M941.5 273V274M942.5 274V275M943.5 274V275M944.5 274V275M945.5 275V276M946.5 275V276M947.5 275V276M948.5 275V276M949.5 275V276M950.5 275V276M951.5 275V276M952.5 275V276M953.5 275V276M954.5 275V276M955.5 275V276M956.5 275V276M957.5 275V276M958.5 275V276M959.5 275V276M960.5 275V276M961.5 275V276M962.5 275V276M963.5 275V276M964.5 275V276M965.5 275V276M966.5 275V276M967.5 275V276M968.5 275V276M969.5 275V276M970.5 276V277M971.5 277V278M972.5 277V278M973.5 278V279M974.5 278V279M975.5 278V279M976.5 278V279M977.5 278V279M978.5 278V279M979.5 279V280M980.5 280V281M981.5 281V282M982.5 282V283M983.5 283V284M984.5 284V285M985.5 284V285M986.5 285V286M987.5 286V287M988.5 286V287M989.5 287V288M990.5 287V288M991.5 287V288M992.5 287V288M993.5 287V288M994.5 287V288M995.5 287V288M996.5 286V287M997.5 286V287M998.5 286V287M999.5 285V286M1000.5 285V286M1001.5 285V286M1002.5 284V285M1003.5 284V285M1004.5 284V285M1005.5 284V285M1006.5 284V285M1007.5 283V284M1008.5 283V284M1009.5 283V284M1010.5 283V284M1011.5 283V284M1012.5 283V284M1013.5 283V284M1014.5 283V284M1015.5 283V284M1016.5 284V285M1017.5 284V285M1018.5 284V285M1019.5 284V285M1020.5 284V285M1021.5 285V287M1022.5 287V289M1023.5 289V291M1024.5 291V292M1025.5 292V293M1026.5 292V293M1027.5 292V293M1028.5 293V294M1029.5 293V294M1030.5 293V294M1031.5 293V294M1032.5 293V294M1033.5 293V294M1034.5 293V294M1035.5 294V295M1036.5 294V295M1037.5 294V295" fill="none" stroke="#ff0000" stroke-width="1"/>
<path d="M6.5 199V200M7.5 198V199M8.5 198V199M9.5 197V198M10.5 197V198M11.5 196V197M12.5 196V197M13.5 195V196M14.5 194V195M15.5 194V195M16.5 193V194M17.5 193V194M18.5 192V193M19.5 192V193M20.5 191V192M21.5 190V191M22.5 190V191M23.5 189V190M24.5 189V190M25.5 188V189M26.5 188V189M27.5 188V189M28.5 187V188M29.5 187V188M30.5 187V188M31.5 186V187M32.5 186V187M33.5 185V186M34.5 184V185M35.5 183V184M36.5 182V183M37.5 182V183M38.5 181V182M39.5 180V181M40.5 179V180M41.5 178V179M42.5 177V178M43.5 176V177M44.5 175V176M45.5 174V175M46.5 173V174M47.5 172V173M48.5 171V172M49.5 171V172M50.5 170V171M51.5 169V170M52.5 169V170M53.5 168V169M54.5 168V169M55.5 167V168M56.5 166V167M57.5 166V167M58.5 165V166M59.5 164V165M60.5 164V165M61.5 163V164M62.5 162V163M63.5 162V163M64.5 161V162M65.5 160V161M66.5 160V161M67.5 159V160M68.5 158V159M69.5 157V158M70.5 156V157M71.5 156V157M72.5 155V156M73.5 154V155M74.5 153V154M75.5 152V153M76.5 151V152M77.5 151V152M78.5 150V151M79.5 149V150M80.5 148V149M81.5 147V148M82.5 147V148M83.5 146V147M84.5 145V146M85.5 145V146M86.5 144V145M87.5 143V144M88.5 143V144M89.5 142V143M90.5 141V142M91.5 141V142M92.5 141V142M93.5 141V142M94.5 140V141M95.5 140V141M96.5 140V141M97.5 140V141M98.5 139V140M99.5 139V140M100.5 139V140M101.5 139V140M102.5 139V140M103.5 140V141M104.5 140V141M105.5 140V141M106.5 140V141M107.5 140V141M108.5 140V141M109.5 140V141M110.5 141V142M111.5 140V141M112.5 140V141M113.5 140V141M114.5 140V141M115.5 140V141M116.5 139V140M117.5 139V140M118.5 139V140M119.5 139V140M120.5 139V140M121.5 139V140M122.5 138V139M123.5 138V139M124.5 138V139M125.5 138V139M126.5 138V139M127.5 138V139M128.5 138V139M129.5 138V139M130.5 138V139M131.5 139V140M132.5 139V140M133.5 139V140M134.5 139V140M135.5 139V140M136.5 139V140M137.5 139V140M138.5 139V140M139.5 139V140M140.5 139V140M141.5 140V141M142.5 140V141M143.5 140V141M144.5 140V141M145.5 140V141M146.5 141V142M147.5 141V142M148.5 141V142M149.5 141V142M150.5 141V142M151.5 142V143M152.5 142V143M153.5 142V143M154.5 143V144M155.5 143V144M156.5 143V144M157.5 143V144M158.5 144V145M159.5 145V146M160.5 145V146M161.5 145V146M162.5 146V147M163.5 146V147M164.5 146V147M165.5 146V147M166.5 146V147M167.5 146V147M168.5 146V147M169.5 147V148M170.5 147V148M171.5 147V148M172.5 147V148M173.5 148V149M174.5 148V149M175.5 149V150M176.5 150V151M177.5 150V151M178.5 151V152M179.5 151V152M180.5 152V153M181.5 152V153M182.5 153V154M183.5 154V155M184.5 154V155M185.5 154V155M186.5 154V155M187.5 154V155M188.5 154V155M189.5 153V154M190.5 153V154M191.5 153V154M192.5 153V154M193.5 153V154M194.5 153V154M195.5 153V154M196.5 153V154M197.5 153V154M198.5 153V154M199.5 153V154M200.5 153V154M201.5 153V154M202.5 154V155M203.5 154V155M204.5 154V155M205.5 155V156M206.5 155V156M207.5 156V157M208.5 156V157M209.5 156V157M210.5 156V157M211.5 156V157M212.5 156V157M213.5 155V156M214.5 155V156M215.5 154V155M216.5 154V155M217.5 154V155M218.5 153V154M219.5 153V154M220.5 153V154M221.5 153V154M222.5 152V153M223.5 152V153M224.5 152V153M225.5 152V153M226.5 151V152M227.5 151V152M228.5 151V152M229.5 151V152M230.5 151V152M231.5 151V152M232.5 151V152M233.5 151V152M234.5 150V151M235.5 150V151M236.5 150V151M237.5 150V151M238.5 150V151M239.5 149V150M240.5 149V150M241.5 149V150M242.5 149V150M243.5 148V149M244.5 147V148M245.5 146V147M246.5 146V147M247.5 145V146M248.5 144V145M249.5 143V144M250.5 143V144M251.5 142V143M252.5 141V142M253.5 140V141M254.5 139V140M255.5 139V140M256.5 138V139M257.5 137V138M258.5 135V137M259.5 133V135M260.5 131V133M261.5 130V131M262.5 128V130M263.5 127V128M264.5 125V127M265.5 123V125M266.5 122V123M267.5 120V122M268.5 119V120M269.5 118V119M270.5 116V118M271.5 115V116M272.5 114V115M273.5 112V114M274.5 112V113M275.5 111V112M276.5 110V111M277.5 109V110M278.5 108V109M279.5 107V108M280.5 106V107M281.5 105V106M282.5 105V106M283.5 104V105M284.5 103V104M285.5 102V103M286.5 102V103M287.5 101V102M288.5 100V101M289.5 100V101M290.5 99V100M291.5 99V100M292.5 98V99M293.5 97V98M294.5 97V98M295.5 97V98M296.5 96V97M297.5 96V97M298.5 96V97M299.5 96V97M300.5 96V97M301.5 96V97M302.5 96V97M303.5 96V97M304.5 96V97M305.5 96V97M306.5 96V97M307.5 96V97M308.5 96V97M309.5 96V97M310.5 96V97M311.5 96V97M312.5 96V97M313.5 96V97M314.5 97V98M315.5 96V97M316.5 96V97M317.5 96V97M318.5 96V97M319.5 96V97M320.5 96V97M321.5 95V96M322.5 95V96M323.5 96V97M324.5 96V97M325.5 96V97M326.5 96V97M327.5 97V98M328.5 97V98M329.5 97V98M330.5 98V99M331.5 98V99M332.5 99V100M333.5 99V100M334.5 100V101M335.5 100V101M336.5 101V102M337.5 101V102M338.5 102V103M339.5 102V103M340.5 102V103M341.5 102V103M342.5 103V104M343.5 103V104M344.5 103V104M345.5 103V104M346.5 104V105M347.5 105V106M348.5 106V107M349.5 107V108M350.5 108V110M351.5 110V111M352.5 111V112M353.5 112V113M354.5 113V114M355.5 114V116M356.5 116V117M357.5 117V118M358.5 118V120M359.5 120V121M360.5 121V122M361.5 122V123M362.5 123V124M363.5 124V125M364.5 125V126M365.5 126V127M366.5 127V128M367.5 128V129M368.5 129V131M369.5 131V132M370.5 132V134M371.5 134V135M372.5 135V136M373.5 136V138M374.5 138V139M375.5 139V140M376.5 140V142M377.5 142V144M378.5 144V146M379.5 146V148M380.5 148V150M381.5 150V152M382.5 152V154M383.5 154V156M384.5 156V158M385.5 158V160M386.5 160V161M387.5 161V163M388.5 163V165M389.5 165V167M390.5 167V168M391.5 168V170M392.5 170V171M393.5 171V173M394.5 173V174M395.5 174V176M396.5 176V177M397.5 177V179M398.5 179V180M399.5 180V182M400.5 182V183M401.5 183V184M402.5 184V186M403.5 186V187M404.5 187V189M405.5 189V190M406.5 190V191M407.5 191V193M408.5 193V194M409.5 194V196M410.5 196V197M411.5 197V198M412.5 198V200M413.5 200V201M414.5 201V202M415.5 202V204M416.5 204V205M417.5 205V206M418.5 206V208M419.5 208V209M420.5 209V210M421.5 210V211M422.5 211V212M423.5 212V214M424.5 214V215M425.5 215V216M426.5 216V217M427.5 217V219M428.5 219V221M429.5 221V224M430.5 224V225M431.5 225V226M432.5 226V227M433.5 227V228M434.5 228V229M435.5 229V230M436.5 230V231M437.5 231V232M438.5 231V232M439.5 232V233M440.5 233V234M441.5 234V235M442.5 234V235M443.5 235V236M444.5 236V237M445.5 236V237M446.5 237V238M447.5 238V239M448.5 239V240M449.5 239V240M450.5 239V240M451.5 240V241M452.5 240V241M453.5 240V241M454.5 241V242M455.5 241V242M456.5 241V242M457.5 241V242M458.5 241V242M459.5 241V242M460.5 241V242M461.5 241V242M462.5 241V242M463.5 241V242M464.5 241V242M465.5 240V241M466.5 240V241M467.5 239V240M468.5 239V240M469.5 238V239M470.5 238V239M471.5 237V238M472.5 236V237M473.5 236V237M474.5 235V236M475.5 235V236M476.5 234V235M477.5 233V234M478.5 233V234M479.5 232V233M480.5 231V232M481.5 231V232M482.5 230V231M483.5 230V231M484.5 229V230M485.5 229V230M486.5 228V229M487.5 228V229M488.5 228V229M489.5 227V228M490.5 227V228M491.5 227V228M492.5 226V227M493.5 226V227M494.5 225V226M495.5 225V226M496.5 224V225M497.5 224V225M498.5 224V225M499.5 223V224M500.5 223V224M501.5 222V223M502.5 222V223M503.5 221V222M504.5 221V222M505.5 220V221M506.5 220V221M507.5 219V220M508.5 219V220M509.5 219V220M510.5 218V219M511.5 218V219M512.5 217V218M513.5 217V218M514.5 216V217M515.5 215V216M516.5 215V216M517.5 214V215M518.5 213V214M519.5 212V213M520.5 212V213M521.5 211V212M522.5 210V211M523.5 209V210M524.5 209V210M525.5 208V209M526.5 208V209M527.5 207V208M528.5 207V208M529.5 206V207M530.5 206V207M531.5 205V206M532.5 205V206M533.5 204V205M534.5 204V205M535.5 203V204M536.5 203V204M537.5 202V203M538.5 202V203M539.5 201V202M540.5 201V202M541.5 200V201M542.5 200V201M543.5 199V200M544.5 198V199M545.5 198V199M546.5 197V198M547.5 197V198M548.5 198V199M549.5 198V199M550.5 199V200M551.5 199V200M552.5 200V201M553.5 200V201M554.5 201V202M555.5 202V203M556.5 202V203M557.5 203V204M558.5 204V205M559.5 204V205M560.5 204V205M561.5 204V205M562.5 204V205M563.5 204V205M564.5 204V205M565.5 205V206M566.5 205V206M567.5 205V206M568.5 205V206M569.5 205V206M570.5 205V206M571.5 205V206M572.5 205V206M573.5 206V207M574.5 206V207M575.5 206V207M576.5 207V208M577.5 207V208M578.5 207V208M579.5 208V209M580.5 208V209M581.5 208V209M582.5 209V210M583.5 209V210M584.5 209V210M585.5 209V210M586.5 209V210M587.5 209V210M588.5 209V210M589.5 209V210M590.5 209V210M591.5 208V209M592.5 208V209M593.5 209V210M594.5 209V210M595.5 209V210M596.5 209V210M597.5 209V210M598.5 209V210M599.5 209V210M600.5 209V210M601.5 209V210M602.5 210V211M603.5 210V211M604.5 210V211M605.5 211V212M606.5 211V212M607.5 211V212M608.5 211V212M609.5 211V212M610.5 211V212M611.5 210V211M612.5 210V211M613.5 210V211M614.5 210V211M615.5 210V211M616.5 211V212M617.5 211V212M618.5 211V212M619.5 211V212M620.5 211V212M621.5 211V212M622.5 211V212M623.5 212V213M624.5 212V213M625.5 212V213M626.5 213V214M627.5 213V214M628.5 213V214M629.5 214V215M630.5 214V215M631.5 214V215M632.5 214V215M633.5 213V214M634.5 213V214M635.5 213V214M636.5 213V214M637.5 212V213M638.5 212V213M639.5 212V213M640.5 212V213M641.5 211V212M642.5 211V212M643.5 210V211M644.5 210V211M645.5 210V211M646.5 209V210M647.5 209V210M648.5 209V210M649.5 208V209M650.5 208V209M651.5 208V209M652.5 207V208M653.5 207V208M654.5 207V208M655.5 207V208M656.5 206V207M657.5 206V207M658.5 206V207M659.5 206V207M660.5 205V206M661.5 205V206M662.5 204V205M663.5 204V205M664.5 203V204M665.5 203V204M666.5 203V204M667.5 203V204M668.5 203V204M669.5 203V204M670.5 203V204M671.5 203V204M672.5 203V204M673.5 203V204M674.5 204V205M675.5 204V205M676.5 204V205M677.5 205V206M678.5 205V206M679.5 205V206M680.5 205V206M681.5 205V206M682.5 206V207M683.5 207V208M684.5 207V208M685.5 208V209M686.5 209V210M687.5 210V211M688.5 210V211M689.5 211V212M690.5 212V213M691.5 212V213M692.5 213V214M693.5 214V215M694.5 214V215M695.5 215V216M696.5 216V217M697.5 217V218M698.5 217V218M699.5 218V219M700.5 219V220M701.5 219V220M702.5 220V221M703.5 220V221M704.5 221V222M705.5 221V222M706.5 222V223M707.5 222V223M708.5 223V224M709.5 223V224M710.5 224V225M711.5 224V225M712.5 225V226M713.5 225V226M714.5 226V227M715.5 226V227M716.5 227V228M717.5 228V229M718.5 229V230M719.5 230V231M720.5 231V232M721.5 232V233M722.5 233V234M723.5 234V235M724.5 235V236M725.5 236V237M726.5 237V238M727.5 238V239M728.5 239V240M729.5 240V241M730.5 241V242M731.5 242V243M732.5 243V244M733.5 244V246M734.5 246V247M735.5 247V248M736.5 248V250M737.5 250V251M738.5 251V252M739.5 252V253M740.5 253V254M741.5 254V255M742.5 255V256M743.5 256V257M744.5 257V258M745.5 258V260M746.5 260V261M747.5 261V262M748.5 262V264M749.5 264V265M750.5 265V266M751.5 266V268M752.5 268V269M753.5 269V270M754.5 270V271M755.5 271V272M756.5 272V273M757.5 272V273M758.5 273V274M759.5 274V275M760.5 275V276M761.5 275V276M762.5 276V277M763.5 277V278M764.5 277V278M765.5 278V279M766.5 278V279M767.5 278V279M768.5 278V279M769.5 278V279M770.5 278V279M771.5 278V279M772.5 277V278M773.5 277V278M774.5 277V278M775.5 276V277M776.5 276V277M777.5 276V277M778.5 276V277M779.5 276V277M780.5 276V277M781.5 276V277M782.5 276V277M783.5 276V277M784.5 276V277M785.5 276V277M786.5 276V277M787.5 276V277M788.5 277V278M789.5 277V278M790.5 277V278M791.5 277V278M792.5 277V278M793.5 276V277M794.5 276V277M795.5 276V277M796.5 275V276M797.5 275V276M798.5 275V276M799.5 274V275M800.5 274V275M801.5 273V274M802.5 273V274M803.5 272V273M804.5 272V273M805.5 271V272M806.5 271V272M807.5 270V271M808.5 270V271M809.5 269V270M810.5 268V269M811.5 268V269M812.5 267V268M813.5 267V268M814.5 266V267M815.5 266V267M816.5 265V266M817.5 264V265M818.5 264V265M819.5 263V264M820.5 263V264M821.5 262V263M822.5 261V262M823.5 261V262M824.5 260V261M825.5 259V260M826.5 258V259M827.5 257V258M828.5 256V257M829.5 255V256M830.5 254V255M831.5 253V254M832.5 252V253M833.5 251V252M834.5 250V251M835.5 249V250M836.5 248V249M837.5 247V248M838.5 246V247M839.5 245V246M840.5 244V245M841.5 243V244M842.5 242V243M843.5 241V242M844.5 240V241M845.5 240V241M846.5 239V240M847.5 239V240M848.5 238V239M849.5 238V239M850.5 238V239M851.5 238V239M852.5 238V239M853.5 238V239M854.5 238V239M855.5 237V238M856.5 237V238M857.5 237V238M858.5 237V238M859.5 237V238M860.5 237V238M861.5 237V238M862.5 237V238M863.5 237V238M864.5 237V238M865.5 238V239M866.5 238V239M867.5 238V239M868.5 238V239M869.5 238V239M870.5 238V239M871.5 238V239M872.5 238V239M873.5 238V239M874.5 238V239M875.5 238V239M876.5 238V239M877.5 239V240M878.5 239V240M879.5 239V240M880.5 239V240M881.5 239V240M882.5 240V241M883.5 240V241M884.5 239V240M885.5 239V240M886.5 239V240M887.5 239V240M888.5 239V240M889.5 239V240M890.5 240V241M891.5 240V241M892.5 240V241M893.5 240V241M894.5 241V242M895.5 241V242M896.5 241V242M897.5 241V242M898.5 241V242M899.5 241V242M900.5 241V242M901.5 241V242M902.5 242V243M903.5 242V243M904.5 242V243M905.5 242V243M906.5 243V244M907.5 243V244M908.5 243V244M909.5 244V245M910.5 244V245M911.5 244V245M912.5 245V246M913.5 245V246M914.5 245V246M915.5 245V246M916.5 246V247M917.5 246V247M918.5 247V248M919.5 248V250M920.5 250V251M921.5 251V253M922.5 253V254M923.5 254V255M924.5 255V256M925.5 255V256M926.5 256V257M927.5 257V258M928.5 258V259M929.5 259V260M930.5 259V260M931.5 260V261M932.5 261V262M933.5 261V262M934.5 262V263M935.5 263V264M936.5 263V264M937.5 264V265M938.5 265V266M939.5 266V267M940.5 266V267M941.5 267V268M942.5 268V269M943.5 269V270M944.5 269V270M945.5 269V270M946.5 270V271M947.5 270V271M948.5 270V271M949.5 270V271M950.5 270V271M951.5 270V271M952.5 271V272M953.5 271V272M954.5 271V272M955.5 271V272M956.5 271V272M957.5 271V272M958.5 270V271M959.5 270V271M960.5 270V271M961.5 270V271M962.5 270V271M963.5 269V270M964.5 269V270M965.5 269V270M966.5 269V270M967.5 269V270M968.5 269V270M969.5 269V270M970.5 269V270M971.5 269V270M972.5 270V271M973.5 270V271M974.5 271V272M975.5 272V273M976.5 272V273M977.5 273V274M978.5 273V274M979.5 273V274M980.5 274V275M981.5 274V275M982.5 275V276M983.5 275V276M984.5 276V277M985.5 277V278M986.5 278V279M987.5 279V280M988.5 280V281M989.5 281V282M990.5 282V283M991.5 283V284M992.5 283V284M993.5 284V285M994.5 285V286M995.5 285V286M996.5 286V287M997.5 287V288M998.5 287V288M999.5 288V289M1000.5 288V289M1001.5 288V289M1002.5 287V288M1003.5 287V288M1004.5 287V288M1005.5 286V287M1006.5 286V287M1007.5 285V286M1008.5 285V286M1009.5 284V285M1010.5 284V285M1011.5 284V285M1012.5 284V285M1013.5 284V285M1014.5 283V284M1015.5 283V284M1016.5 283V284M1017.5 283V284M1018.5 282V283M1019.5 281V282M1020.5 281V282M1021.5 280V281M1022.5 281V282M1023.5 281V282M1024.5 281V282M1025.5 282V283M1026.5 282V283M1027.5 282V283M1028.5 282V283M1029.5 282V283M1030.5 282V283M1031.5 282V283M1032.5 282V283M1033.5 283V284M1034.5 284V285M1035.5 284V285M1036.5 285V286M1037.5 286V287" fill="none" stroke="#0000f0" stroke-width="1"/>
</g>
<rect x="908" y="226" width="197" height="2" fill="#fa2222"/>
<rect x="876" y="284" width="261" height="2" fill="#8ec600"/>
<rect x="933" y="348" width="223" height="2" fill="#1e82e0"/>
<rect x="6" y="47" width="223" height="71" fill="#fff"/>
<rect x="9" y="52" width="52" height="25" fill="#0c0cb4"/>
<rect x="10" y="53" width="50" height="24" fill="url(#gBtn)"/>
<rect x="176" y="52" width="52" height="25" fill="#0c0cb4"/>
<rect x="177" y="53" width="50" height="24" fill="url(#gBtn)"/>
<rect x="9" y="76" width="109" height="40" fill="#0a0aa8"/>
<rect x="10" y="77" width="107" height="38" fill="url(#gPrice)"/>
<rect x="120" y="76" width="108" height="40" fill="#0a0aa8"/>
<rect x="121" y="77" width="106" height="38" fill="url(#gPrice)"/>
<rect x="13" y="75" width="45" height="1" fill="#9c9cf6"/>
<rect x="180" y="75" width="45" height="1" fill="#9c9cf6"/>
<rect x="61" y="52" width="115" height="24" fill="#fff"/>
<rect x="63" y="52" width="111" height="22" fill="#ababab"/>
<rect x="64" y="53" width="109" height="20" fill="#fff"/>
<rect x="64" y="53" width="20" height="20" fill="url(#gSpin)"/>
<rect x="153" y="53" width="20" height="20" fill="url(#gSpin)"/>
<rect x="84" y="53" width="1" height="20" fill="#c0c0c0"/>
<rect x="152" y="53" width="1" height="20" fill="#c0c0c0"/>
<path d="M71 61.5 L77 61.5 L74 65 Z" fill="#4a5a9a" shape-rendering="geometricPrecision"/>
<path d="M160 65 L166 65 L163 61.5 Z" fill="#4a5a9a" shape-rendering="geometricPrecision"/>
<text x="125" y="68" font-size="12" fill="#000" textLength="23.6" lengthAdjust="spacingAndGlyphs">0.50</text>
<text x="21" y="68" font-size="12" fill="#fff" textLength="26.2" lengthAdjust="spacingAndGlyphs">SELL</text>
<text x="189.3" y="68" font-size="12" fill="#fff" textLength="24.5" lengthAdjust="spacingAndGlyphs">BUY</text>
<text x="28.5" y="107" font-size="11" fill="#fff" textLength="24.5" lengthAdjust="spacingAndGlyphs" font-weight="bold">0.98</text>
<text x="138.5" y="107" font-size="11" fill="#fff" textLength="24.5" lengthAdjust="spacingAndGlyphs" font-weight="bold">0.98</text>
<text x="56" y="107.3" font-size="34.5" fill="#fff" textLength="35.5" lengthAdjust="spacingAndGlyphs">75</text>
<text x="167.5" y="107.3" font-size="34.5" fill="#fff" textLength="35.5" lengthAdjust="spacingAndGlyphs">78</text>
<text x="96" y="91" font-size="11" fill="#fff" textLength="7" lengthAdjust="spacingAndGlyphs" font-weight="bold">8</text>
<text x="207" y="91" font-size="11" fill="#fff" textLength="7" lengthAdjust="spacingAndGlyphs" font-weight="bold">5</text>
<path d="M8.7 43.2 L16.5 43.2 L12.6 39 Z" fill="#000" shape-rendering="geometricPrecision"/>
<text x="20.8" y="44" font-size="9.7" fill="#000" textLength="55" lengthAdjust="spacingAndGlyphs" stroke="#000" stroke-width="0.18">USDCHF,H4</text>
<text x="82" y="44" font-size="9.7" fill="#000" textLength="33" lengthAdjust="spacingAndGlyphs" stroke="#000" stroke-width="0.18">0.98596</text>
<text x="117.8" y="44" font-size="9.7" fill="#000" textLength="33" lengthAdjust="spacingAndGlyphs" stroke="#000" stroke-width="0.18">0.98848</text>
<text x="154.1" y="44" font-size="9.7" fill="#000" textLength="33" lengthAdjust="spacingAndGlyphs" stroke="#000" stroke-width="0.18">0.98594</text>
<text x="190" y="44" font-size="9.7" fill="#000" textLength="33" lengthAdjust="spacingAndGlyphs" stroke="#000" stroke-width="0.18">0.98758</text>
<rect x="1307" y="55" width="2" height="1" fill="#000"/>
<text x="1311.8" y="59" font-size="10" fill="#000" textLength="33.2" lengthAdjust="spacingAndGlyphs" stroke="#000" stroke-width="0.18">1.01210</text>
<rect x="1307" y="88" width="2" height="1" fill="#000"/>
<text x="1311.8" y="92" font-size="10" fill="#000" textLength="33.2" lengthAdjust="spacingAndGlyphs" stroke="#000" stroke-width="0.18">1.00890</text>
<rect x="1307" y="121" width="2" height="1" fill="#000"/>
<text x="1311.8" y="125" font-size="10" fill="#000" textLength="33.2" lengthAdjust="spacingAndGlyphs" stroke="#000" stroke-width="0.18">1.00575</text>
<rect x="1307" y="154" width="2" height="1" fill="#000"/>
<text x="1311.8" y="158" font-size="10" fill="#000" textLength="33.2" lengthAdjust="spacingAndGlyphs" stroke="#000" stroke-width="0.18">1.00255</text>
<rect x="1307" y="187" width="2" height="1" fill="#000"/>
<text x="1311.8" y="191" font-size="10" fill="#000" textLength="33.2" lengthAdjust="spacingAndGlyphs" stroke="#000" stroke-width="0.18">0.99935</text>
<rect x="1307" y="220" width="2" height="1" fill="#000"/>
<text x="1311.8" y="224" font-size="10" fill="#000" textLength="33.2" lengthAdjust="spacingAndGlyphs" stroke="#000" stroke-width="0.18">0.99615</text>
<rect x="1307" y="253" width="2" height="1" fill="#000"/>
<text x="1311.8" y="257" font-size="10" fill="#000" textLength="33.2" lengthAdjust="spacingAndGlyphs" stroke="#000" stroke-width="0.18">0.99300</text>
<rect x="1307" y="286" width="2" height="1" fill="#000"/>
<text x="1311.8" y="290" font-size="10" fill="#000" textLength="33.2" lengthAdjust="spacingAndGlyphs" stroke="#000" stroke-width="0.18">0.98980</text>
<rect x="1307" y="319" width="2" height="1" fill="#000"/>
<text x="1311.8" y="323" font-size="10" fill="#000" textLength="33.2" lengthAdjust="spacingAndGlyphs" stroke="#000" stroke-width="0.18">0.98660</text>
<rect x="1307" y="352" width="2" height="1" fill="#000"/>
<text x="1311.8" y="356" font-size="10" fill="#000" textLength="33.2" lengthAdjust="spacingAndGlyphs" stroke="#000" stroke-width="0.18">0.98340</text>
<rect x="1308" y="304" width="41" height="11" fill="#000"/>
<text x="1311.8" y="313" font-size="10" fill="#fff" textLength="33.2" lengthAdjust="spacingAndGlyphs" stroke="#fff" stroke-width="0.18">0.98758</text>
<g clip-path="url(#cMacd)">
<rect x="6" y="380" width="1" height="11" fill="#c0c0c0"/>
<rect x="10" y="380" width="1" height="11" fill="#c0c0c0"/>
<rect x="14" y="380" width="1" height="11" fill="#c0c0c0"/>
<rect x="18" y="379" width="1" height="12" fill="#c0c0c0"/>
<rect x="22" y="378" width="1" height="13" fill="#c0c0c0"/>
<rect x="26" y="377" width="1" height="14" fill="#c0c0c0"/>
<rect x="30" y="376" width="1" height="15" fill="#c0c0c0"/>
<rect x="34" y="375" width="1" height="16" fill="#c0c0c0"/>
<rect x="38" y="373" width="1" height="18" fill="#c0c0c0"/>
<rect x="42" y="372" width="1" height="19" fill="#c0c0c0"/>
<rect x="46" y="371" width="1" height="20" fill="#c0c0c0"/>
<rect x="50" y="370" width="1" height="21" fill="#c0c0c0"/>
<rect x="54" y="369" width="1" height="22" fill="#c0c0c0"/>
<rect x="58" y="369" width="1" height="22" fill="#c0c0c0"/>
<rect x="62" y="367" width="1" height="24" fill="#c0c0c0"/>
<rect x="66" y="367" width="1" height="24" fill="#c0c0c0"/>
<rect x="70" y="366" width="1" height="25" fill="#c0c0c0"/>
<rect x="74" y="366" width="1" height="25" fill="#c0c0c0"/>
<rect x="78" y="365" width="1" height="26" fill="#c0c0c0"/>
<rect x="82" y="368" width="1" height="23" fill="#c0c0c0"/>
<rect x="86" y="370" width="1" height="21" fill="#c0c0c0"/>
<rect x="90" y="373" width="1" height="18" fill="#c0c0c0"/>
<rect x="94" y="377" width="1" height="14" fill="#c0c0c0"/>
<rect x="98" y="380" width="1" height="11" fill="#c0c0c0"/>
<rect x="102" y="384" width="1" height="7" fill="#c0c0c0"/>
<rect x="106" y="388" width="1" height="3" fill="#c0c0c0"/>
<rect x="110" y="390" width="1" height="1" fill="#c0c0c0"/>
<rect x="114" y="389" width="1" height="2" fill="#c0c0c0"/>
<rect x="118" y="387" width="1" height="4" fill="#c0c0c0"/>
<rect x="122" y="386" width="1" height="5" fill="#c0c0c0"/>
<rect x="126" y="385" width="1" height="6" fill="#c0c0c0"/>
<rect x="130" y="384" width="1" height="7" fill="#c0c0c0"/>
<rect x="134" y="384" width="1" height="7" fill="#c0c0c0"/>
<rect x="138" y="383" width="1" height="8" fill="#c0c0c0"/>
<rect x="142" y="384" width="1" height="7" fill="#c0c0c0"/>
<rect x="146" y="384" width="1" height="7" fill="#c0c0c0"/>
<rect x="150" y="384" width="1" height="7" fill="#c0c0c0"/>
<rect x="154" y="384" width="1" height="7" fill="#c0c0c0"/>
<rect x="158" y="385" width="1" height="6" fill="#c0c0c0"/>
<rect x="162" y="386" width="1" height="5" fill="#c0c0c0"/>
<rect x="166" y="387" width="1" height="4" fill="#c0c0c0"/>
<rect x="170" y="390" width="1" height="1" fill="#c0c0c0"/>
<rect x="174" y="390" width="1" height="1" fill="#c0c0c0"/>
<rect x="178" y="390" width="1" height="9" fill="#c0c0c0"/>
<rect x="182" y="390" width="1" height="12" fill="#c0c0c0"/>
<rect x="186" y="390" width="1" height="13" fill="#c0c0c0"/>
<rect x="190" y="390" width="1" height="12" fill="#c0c0c0"/>
<rect x="194" y="390" width="1" height="9" fill="#c0c0c0"/>
<rect x="198" y="390" width="1" height="7" fill="#c0c0c0"/>
<rect x="202" y="390" width="1" height="7" fill="#c0c0c0"/>
<rect x="206" y="390" width="1" height="6" fill="#c0c0c0"/>
<rect x="210" y="390" width="1" height="4" fill="#c0c0c0"/>
<rect x="214" y="390" width="1" height="1" fill="#c0c0c0"/>
<rect x="218" y="385" width="1" height="6" fill="#c0c0c0"/>
<rect x="222" y="381" width="1" height="10" fill="#c0c0c0"/>
<rect x="226" y="379" width="1" height="12" fill="#c0c0c0"/>
<rect x="230" y="378" width="1" height="13" fill="#c0c0c0"/>
<rect x="234" y="379" width="1" height="12" fill="#c0c0c0"/>
<rect x="238" y="379" width="1" height="12" fill="#c0c0c0"/>
<rect x="242" y="379" width="1" height="12" fill="#c0c0c0"/>
<rect x="246" y="376" width="1" height="15" fill="#c0c0c0"/>
<rect x="250" y="372" width="1" height="19" fill="#c0c0c0"/>
<rect x="254" y="371" width="1" height="20" fill="#c0c0c0"/>
<rect x="258" y="370" width="1" height="21" fill="#c0c0c0"/>
<rect x="262" y="369" width="1" height="22" fill="#c0c0c0"/>
<rect x="266" y="368" width="1" height="23" fill="#c0c0c0"/>
<rect x="270" y="367" width="1" height="24" fill="#c0c0c0"/>
<rect x="274" y="366" width="1" height="25" fill="#c0c0c0"/>
<rect x="278" y="367" width="1" height="24" fill="#c0c0c0"/>
<rect x="282" y="368" width="1" height="23" fill="#c0c0c0"/>
<rect x="286" y="371" width="1" height="20" fill="#c0c0c0"/>
<rect x="290" y="374" width="1" height="17" fill="#c0c0c0"/>
<rect x="294" y="377" width="1" height="14" fill="#c0c0c0"/>
<rect x="298" y="376" width="1" height="15" fill="#c0c0c0"/>
<rect x="302" y="379" width="1" height="12" fill="#c0c0c0"/>
<rect x="306" y="380" width="1" height="11" fill="#c0c0c0"/>
<rect x="310" y="385" width="1" height="6" fill="#c0c0c0"/>
<rect x="314" y="386" width="1" height="5" fill="#c0c0c0"/>
<rect x="318" y="390" width="1" height="1" fill="#c0c0c0"/>
<rect x="322" y="390" width="1" height="1" fill="#c0c0c0"/>
<rect x="326" y="390" width="1" height="1" fill="#c0c0c0"/>
<rect x="330" y="390" width="1" height="1" fill="#c0c0c0"/>
<rect x="334" y="390" width="1" height="1" fill="#c0c0c0"/>
<rect x="338" y="390" width="1" height="2" fill="#c0c0c0"/>
<rect x="342" y="390" width="1" height="3" fill="#c0c0c0"/>
<rect x="346" y="390" width="1" height="4" fill="#c0c0c0"/>
<rect x="350" y="390" width="1" height="5" fill="#c0c0c0"/>
<rect x="354" y="390" width="1" height="9" fill="#c0c0c0"/>
<rect x="358" y="390" width="1" height="13" fill="#c0c0c0"/>
<rect x="362" y="390" width="1" height="17" fill="#c0c0c0"/>
<rect x="366" y="390" width="1" height="19" fill="#c0c0c0"/>
<rect x="370" y="390" width="1" height="24" fill="#c0c0c0"/>
<rect x="374" y="390" width="1" height="29" fill="#c0c0c0"/>
<rect x="378" y="390" width="1" height="34" fill="#c0c0c0"/>
<rect x="382" y="390" width="1" height="38" fill="#c0c0c0"/>
<rect x="386" y="390" width="1" height="42" fill="#c0c0c0"/>
<rect x="390" y="390" width="1" height="44" fill="#c0c0c0"/>
<rect x="394" y="390" width="1" height="45" fill="#c0c0c0"/>
<rect x="398" y="390" width="1" height="45" fill="#c0c0c0"/>
<rect x="402" y="390" width="1" height="45" fill="#c0c0c0"/>
<rect x="406" y="390" width="1" height="42" fill="#c0c0c0"/>
<rect x="410" y="390" width="1" height="40" fill="#c0c0c0"/>
<rect x="414" y="390" width="1" height="38" fill="#c0c0c0"/>
<rect x="418" y="390" width="1" height="35" fill="#c0c0c0"/>
<rect x="422" y="390" width="1" height="32" fill="#c0c0c0"/>
<rect x="426" y="390" width="1" height="30" fill="#c0c0c0"/>
<rect x="430" y="390" width="1" height="29" fill="#c0c0c0"/>
<rect x="434" y="390" width="1" height="28" fill="#c0c0c0"/>
<rect x="438" y="390" width="1" height="27" fill="#c0c0c0"/>
<rect x="442" y="390" width="1" height="25" fill="#c0c0c0"/>
<rect x="446" y="390" width="1" height="23" fill="#c0c0c0"/>
<rect x="450" y="390" width="1" height="22" fill="#c0c0c0"/>
<rect x="454" y="390" width="1" height="21" fill="#c0c0c0"/>
<rect x="458" y="390" width="1" height="20" fill="#c0c0c0"/>
<rect x="462" y="390" width="1" height="18" fill="#c0c0c0"/>
<rect x="466" y="390" width="1" height="14" fill="#c0c0c0"/>
<rect x="470" y="390" width="1" height="10" fill="#c0c0c0"/>
<rect x="474" y="390" width="1" height="7" fill="#c0c0c0"/>
<rect x="478" y="390" width="1" height="5" fill="#c0c0c0"/>
<rect x="482" y="390" width="1" height="3" fill="#c0c0c0"/>
<rect x="486" y="390" width="1" height="2" fill="#c0c0c0"/>
<rect x="490" y="390" width="1" height="1" fill="#c0c0c0"/>
<rect x="494" y="390" width="1" height="1" fill="#c0c0c0"/>
<rect x="498" y="388" width="1" height="3" fill="#c0c0c0"/>
<rect x="502" y="386" width="1" height="5" fill="#c0c0c0"/>
<rect x="506" y="385" width="1" height="6" fill="#c0c0c0"/>
<rect x="510" y="385" width="1" height="6" fill="#c0c0c0"/>
<rect x="514" y="383" width="1" height="8" fill="#c0c0c0"/>
<rect x="518" y="382" width="1" height="9" fill="#c0c0c0"/>
<rect x="522" y="382" width="1" height="9" fill="#c0c0c0"/>
<rect x="526" y="383" width="1" height="8" fill="#c0c0c0"/>
<rect x="530" y="383" width="1" height="8" fill="#c0c0c0"/>
<rect x="534" y="383" width="1" height="8" fill="#c0c0c0"/>
<rect x="538" y="383" width="1" height="8" fill="#c0c0c0"/>
<rect x="542" y="383" width="1" height="8" fill="#c0c0c0"/>
<rect x="546" y="383" width="1" height="8" fill="#c0c0c0"/>
<rect x="550" y="390" width="1" height="1" fill="#c0c0c0"/>
<rect x="554" y="390" width="1" height="3" fill="#c0c0c0"/>
<rect x="558" y="390" width="1" height="6" fill="#c0c0c0"/>
<rect x="562" y="390" width="1" height="6" fill="#c0c0c0"/>
<rect x="566" y="390" width="1" height="6" fill="#c0c0c0"/>
<rect x="570" y="390" width="1" height="6" fill="#c0c0c0"/>
<rect x="574" y="390" width="1" height="5" fill="#c0c0c0"/>
<rect x="578" y="390" width="1" height="5" fill="#c0c0c0"/>
<rect x="582" y="390" width="1" height="5" fill="#c0c0c0"/>
<rect x="586" y="390" width="1" height="4" fill="#c0c0c0"/>
<rect x="590" y="390" width="1" height="1" fill="#c0c0c0"/>
<rect x="594" y="390" width="1" height="1" fill="#c0c0c0"/>
<rect x="598" y="388" width="1" height="3" fill="#c0c0c0"/>
<rect x="602" y="388" width="1" height="3" fill="#c0c0c0"/>
<rect x="606" y="387" width="1" height="4" fill="#c0c0c0"/>
<rect x="610" y="386" width="1" height="5" fill="#c0c0c0"/>
<rect x="614" y="386" width="1" height="5" fill="#c0c0c0"/>
<rect x="618" y="386" width="1" height="5" fill="#c0c0c0"/>
<rect x="622" y="387" width="1" height="4" fill="#c0c0c0"/>
<rect x="626" y="388" width="1" height="3" fill="#c0c0c0"/>
<rect x="630" y="390" width="1" height="1" fill="#c0c0c0"/>
<rect x="634" y="390" width="1" height="3" fill="#c0c0c0"/>
<rect x="638" y="390" width="1" height="4" fill="#c0c0c0"/>
<rect x="642" y="390" width="1" height="3" fill="#c0c0c0"/>
<rect x="646" y="390" width="1" height="2" fill="#c0c0c0"/>
<rect x="650" y="390" width="1" height="1" fill="#c0c0c0"/>
<rect x="654" y="390" width="1" height="1" fill="#c0c0c0"/>
<rect x="658" y="388" width="1" height="3" fill="#c0c0c0"/>
<rect x="662" y="386" width="1" height="5" fill="#c0c0c0"/>
<rect x="666" y="386" width="1" height="5" fill="#c0c0c0"/>
<rect x="670" y="386" width="1" height="5" fill="#c0c0c0"/>
<rect x="674" y="388" width="1" height="3" fill="#c0c0c0"/>
<rect x="678" y="387" width="1" height="4" fill="#c0c0c0"/>
<rect x="682" y="389" width="1" height="2" fill="#c0c0c0"/>
<rect x="686" y="390" width="1" height="5" fill="#c0c0c0"/>
<rect x="690" y="390" width="1" height="10" fill="#c0c0c0"/>
<rect x="694" y="390" width="1" height="12" fill="#c0c0c0"/>
<rect x="698" y="390" width="1" height="13" fill="#c0c0c0"/>
<rect x="702" y="390" width="1" height="15" fill="#c0c0c0"/>
<rect x="706" y="390" width="1" height="15" fill="#c0c0c0"/>
<rect x="710" y="390" width="1" height="16" fill="#c0c0c0"/>
<rect x="714" y="390" width="1" height="18" fill="#c0c0c0"/>
<rect x="718" y="390" width="1" height="21" fill="#c0c0c0"/>
<rect x="722" y="390" width="1" height="25" fill="#c0c0c0"/>
<rect x="726" y="390" width="1" height="26" fill="#c0c0c0"/>
<rect x="730" y="390" width="1" height="27" fill="#c0c0c0"/>
<rect x="734" y="390" width="1" height="27" fill="#c0c0c0"/>
<rect x="738" y="390" width="1" height="27" fill="#c0c0c0"/>
<rect x="742" y="390" width="1" height="26" fill="#c0c0c0"/>
<rect x="746" y="390" width="1" height="25" fill="#c0c0c0"/>
<rect x="750" y="390" width="1" height="25" fill="#c0c0c0"/>
<rect x="754" y="390" width="1" height="23" fill="#c0c0c0"/>
<rect x="758" y="390" width="1" height="22" fill="#c0c0c0"/>
<rect x="762" y="390" width="1" height="20" fill="#c0c0c0"/>
<rect x="766" y="390" width="1" height="16" fill="#c0c0c0"/>
<rect x="770" y="390" width="1" height="12" fill="#c0c0c0"/>
<rect x="774" y="390" width="1" height="8" fill="#c0c0c0"/>
<rect x="778" y="390" width="1" height="6" fill="#c0c0c0"/>
<rect x="782" y="390" width="1" height="4" fill="#c0c0c0"/>
<rect x="786" y="390" width="1" height="3" fill="#c0c0c0"/>
<rect x="790" y="390" width="1" height="2" fill="#c0c0c0"/>
<rect x="794" y="390" width="1" height="1" fill="#c0c0c0"/>
<rect x="798" y="390" width="1" height="1" fill="#c0c0c0"/>
<rect x="802" y="389" width="1" height="2" fill="#c0c0c0"/>
<rect x="806" y="388" width="1" height="3" fill="#c0c0c0"/>
<rect x="810" y="388" width="1" height="3" fill="#c0c0c0"/>
<rect x="814" y="387" width="1" height="4" fill="#c0c0c0"/>
<rect x="818" y="387" width="1" height="4" fill="#c0c0c0"/>
<rect x="822" y="385" width="1" height="6" fill="#c0c0c0"/>
<rect x="826" y="383" width="1" height="8" fill="#c0c0c0"/>
<rect x="830" y="380" width="1" height="11" fill="#c0c0c0"/>
<rect x="834" y="378" width="1" height="13" fill="#c0c0c0"/>
<rect x="838" y="376" width="1" height="15" fill="#c0c0c0"/>
<rect x="842" y="375" width="1" height="16" fill="#c0c0c0"/>
<rect x="846" y="374" width="1" height="17" fill="#c0c0c0"/>
<rect x="850" y="376" width="1" height="15" fill="#c0c0c0"/>
<rect x="854" y="378" width="1" height="13" fill="#c0c0c0"/>
<rect x="858" y="381" width="1" height="10" fill="#c0c0c0"/>
<rect x="862" y="386" width="1" height="5" fill="#c0c0c0"/>
<rect x="866" y="389" width="1" height="2" fill="#c0c0c0"/>
<rect x="870" y="390" width="1" height="2" fill="#c0c0c0"/>
<rect x="874" y="390" width="1" height="2" fill="#c0c0c0"/>
<rect x="878" y="390" width="1" height="2" fill="#c0c0c0"/>
<rect x="882" y="390" width="1" height="3" fill="#c0c0c0"/>
<rect x="886" y="390" width="1" height="4" fill="#c0c0c0"/>
<rect x="890" y="390" width="1" height="5" fill="#c0c0c0"/>
<rect x="894" y="390" width="1" height="5" fill="#c0c0c0"/>
<rect x="898" y="390" width="1" height="5" fill="#c0c0c0"/>
<rect x="902" y="390" width="1" height="6" fill="#c0c0c0"/>
<rect x="906" y="390" width="1" height="5" fill="#c0c0c0"/>
<rect x="910" y="390" width="1" height="5" fill="#c0c0c0"/>
<rect x="914" y="390" width="1" height="3" fill="#c0c0c0"/>
<rect x="918" y="390" width="1" height="3" fill="#c0c0c0"/>
<rect x="922" y="390" width="1" height="8" fill="#c0c0c0"/>
<rect x="926" y="390" width="1" height="10" fill="#c0c0c0"/>
<rect x="930" y="390" width="1" height="9" fill="#c0c0c0"/>
<rect x="934" y="390" width="1" height="12" fill="#c0c0c0"/>
<rect x="938" y="390" width="1" height="16" fill="#c0c0c0"/>
<rect x="942" y="390" width="1" height="18" fill="#c0c0c0"/>
<rect x="946" y="390" width="1" height="17" fill="#c0c0c0"/>
<rect x="950" y="390" width="1" height="15" fill="#c0c0c0"/>
<rect x="954" y="390" width="1" height="14" fill="#c0c0c0"/>
<rect x="958" y="390" width="1" height="8" fill="#c0c0c0"/>
<rect x="962" y="390" width="1" height="4" fill="#c0c0c0"/>
<rect x="966" y="390" width="1" height="2" fill="#c0c0c0"/>
<rect x="970" y="390" width="1" height="2" fill="#c0c0c0"/>
<rect x="974" y="390" width="1" height="5" fill="#c0c0c0"/>
<rect x="978" y="390" width="1" height="7" fill="#c0c0c0"/>
<rect x="982" y="390" width="1" height="9" fill="#c0c0c0"/>
<rect x="986" y="390" width="1" height="12" fill="#c0c0c0"/>
<rect x="990" y="390" width="1" height="15" fill="#c0c0c0"/>
<rect x="994" y="390" width="1" height="18" fill="#c0c0c0"/>
<rect x="998" y="390" width="1" height="16" fill="#c0c0c0"/>
<rect x="1002" y="390" width="1" height="13" fill="#c0c0c0"/>
<rect x="1006" y="390" width="1" height="9" fill="#c0c0c0"/>
<rect x="1010" y="390" width="1" height="5" fill="#c0c0c0"/>
<rect x="1014" y="390" width="1" height="3" fill="#c0c0c0"/>
<rect x="1018" y="390" width="1" height="2" fill="#c0c0c0"/>
<rect x="1022" y="390" width="1" height="3" fill="#c0c0c0"/>
<rect x="1026" y="390" width="1" height="6" fill="#c0c0c0"/>
<rect x="1030" y="390" width="1" height="8" fill="#c0c0c0"/>
<rect x="1034" y="390" width="1" height="10" fill="#c0c0c0"/>
<rect x="1038" y="390" width="1" height="10" fill="#c0c0c0"/>
<path d="M6.5 374V375M7.5 374V375M8.5 375V376M12.5 376V377M13.5 376V377M14.5 376V377M18.5 377V378M19.5 377V378M20.5 377V378M24.5 377V378M25.5 377V378M26.5 377V378M30.5 377V378M31.5 377V378M32.5 377V378M36.5 376V377M37.5 376V377M38.5 376V377M42.5 375V376M43.5 375V376M44.5 374V375M48.5 373V374M49.5 373V374M50.5 373V374M54.5 372V373M55.5 371V372M56.5 371V372M60.5 370V371M61.5 369V370M62.5 369V370M66.5 368V369M67.5 368V369M68.5 367V368M72.5 366V367M73.5 366V367M74.5 366V367M78.5 365V366M79.5 365V366M80.5 365V366M84.5 365V366M85.5 365V366M86.5 365V366M90.5 365V366M91.5 365V366M92.5 365V366M96.5 367V368M97.5 367V368M98.5 368V369M102.5 370V371M103.5 370V371M104.5 371V372M108.5 374V375M109.5 374V375M110.5 375V376M114.5 378V379M115.5 379V380M116.5 380V381M120.5 382V383M121.5 383V384M122.5 383V384M126.5 384V385M127.5 384V385M128.5 385V386M132.5 385V386M133.5 385V386M134.5 385V386M138.5 385V386M139.5 385V386M140.5 385V386M144.5 385V386M145.5 385V386M146.5 385V386M150.5 385V386M151.5 385V386M152.5 384V385M156.5 384V385M157.5 384V385M158.5 384V385M162.5 384V385M163.5 384V385M164.5 384V385M168.5 384V385M169.5 384V385M170.5 384V385M174.5 385V386M175.5 385V386M176.5 385V386M180.5 388V389M181.5 388V389M182.5 389V390M186.5 391V392M187.5 391V392M188.5 392V393M192.5 394V395M193.5 394V395M194.5 395V396M198.5 396V397M199.5 397V398M200.5 397V398M204.5 398V399M205.5 398V399M206.5 398V399M210.5 399V400M211.5 399V400M212.5 398V399M216.5 396V397M217.5 396V397M218.5 395V396M222.5 393V394M223.5 393V394M224.5 392V393M228.5 389V390M229.5 389V390M230.5 388V389M234.5 386V387M235.5 386V387M236.5 385V386M240.5 383V384M241.5 383V384M242.5 382V383M246.5 380V381M247.5 380V381M248.5 379V380M252.5 377V378M253.5 377V378M254.5 377V378M258.5 375V376M259.5 375V376M260.5 374V375M264.5 373V374M265.5 372V373M266.5 372V373M270.5 370V371M271.5 370V371M272.5 369V370M276.5 368V369M277.5 368V369M278.5 368V369M282.5 367V368M283.5 367V368M284.5 367V368M288.5 367V368M289.5 367V368M290.5 367V368M294.5 368V369M295.5 369V370M296.5 369V370M300.5 370V371M301.5 370V371M302.5 370V371M306.5 372V373M307.5 372V373M308.5 372V373M312.5 375V376M313.5 376V377M314.5 376V377M318.5 379V380M319.5 379V380M320.5 380V381M324.5 382V383M325.5 382V383M326.5 383V384M330.5 385V386M331.5 385V386M332.5 385V386M336.5 387V388M337.5 387V388M338.5 388V389M342.5 389V390M343.5 390V391M344.5 390V391M348.5 391V392M349.5 391V392M350.5 391V392M354.5 392V393M355.5 393V394M356.5 393V394M360.5 395V396M361.5 395V396M362.5 396V397M366.5 398V399M367.5 399V400M368.5 399V400M372.5 402V403M373.5 403V404M374.5 404V405M378.5 407V408M379.5 408V409M380.5 409V410M384.5 412V413M385.5 413V414M386.5 414V415M390.5 418V419M391.5 419V420M392.5 420V421M396.5 424V425M397.5 425V426M398.5 425V426M402.5 428V429M403.5 428V429M404.5 429V430M408.5 430V431M409.5 431V432M410.5 431V432M414.5 431V432M415.5 431V432M416.5 431V432M420.5 431V432M421.5 431V432M422.5 430V431M426.5 429V430M427.5 429V430M428.5 428V429M432.5 427V428M433.5 426V427M434.5 426V427M438.5 424V425M439.5 423V424M440.5 423V424M444.5 421V422M445.5 421V422M446.5 420V421M450.5 419V420M451.5 418V419M452.5 418V419M456.5 416V417M457.5 416V417M458.5 415V416M462.5 414V415M463.5 413V414M464.5 413V414M468.5 411V412M469.5 410V411M470.5 410V411M474.5 408V409M475.5 408V409M476.5 407V408M480.5 405V406M481.5 404V405M482.5 403V404M486.5 401V402M487.5 400V401M488.5 400V401M492.5 398V399M493.5 397V398M494.5 397V398M498.5 394V395M499.5 394V395M500.5 393V394M504.5 391V392M505.5 391V392M506.5 390V391M510.5 389V390M511.5 388V389M512.5 388V389M516.5 386V387M517.5 386V387M518.5 386V387M522.5 385V386M523.5 384V385M524.5 384V385M528.5 383V384M529.5 383V384M530.5 383V384M534.5 383V384M535.5 382V383M536.5 382V383M540.5 382V383M541.5 382V383M542.5 382V383M546.5 382V383M547.5 382V383M548.5 382V383M552.5 383V384M553.5 384V385M554.5 384V385M558.5 386V387M559.5 387V388M560.5 387V388M564.5 388V389M565.5 389V390M566.5 389V390M570.5 391V392M571.5 391V392M572.5 391V392M576.5 393V394M577.5 393V394M578.5 394V395M582.5 394V395M583.5 394V395M584.5 395V396M588.5 395V396M589.5 395V396M590.5 395V396M594.5 394V395M595.5 394V395M596.5 394V395M600.5 393V394M601.5 392V393M602.5 392V393M606.5 391V392M607.5 391V392M608.5 390V391M612.5 389V390M613.5 389V390M614.5 389V390M618.5 388V389M619.5 388V389M620.5 388V389M624.5 387V388M625.5 387V388M626.5 387V388M630.5 387V388M631.5 387V388M632.5 387V388M636.5 387V388M637.5 388V389M638.5 388V389M642.5 389V390M643.5 389V390M644.5 389V390M648.5 389V390M649.5 389V390M650.5 389V390M654.5 390V391M655.5 390V391M656.5 390V391M660.5 389V390M661.5 389V390M662.5 389V390M666.5 389V390M667.5 388V389M668.5 388V389M672.5 388V389M673.5 388V389M674.5 388V389M678.5 387V388M679.5 387V388M680.5 387V388M684.5 388V389M685.5 388V389M686.5 388V389M690.5 389V390M691.5 389V390M692.5 390V391M696.5 392V393M697.5 392V393M698.5 392V393M702.5 394V395M703.5 395V396M704.5 396V397M708.5 398V399M709.5 398V399M710.5 399V400M714.5 401V402M715.5 402V403M716.5 402V403M720.5 405V406M721.5 405V406M722.5 406V407M726.5 408V409M727.5 408V409M728.5 409V410M732.5 411V412M733.5 411V412M734.5 411V412M738.5 413V414M739.5 413V414M740.5 413V414M744.5 414V415M745.5 414V415M746.5 415V416M750.5 415V416M751.5 415V416M752.5 415V416M756.5 415V416M757.5 415V416M758.5 415V416M762.5 414V415M763.5 414V415M764.5 413V414M768.5 412V413M769.5 412V413M770.5 411V412M774.5 409V410M775.5 409V410M776.5 408V409M780.5 406V407M781.5 406V407M782.5 405V406M786.5 403V404M787.5 402V403M788.5 402V403M792.5 399V400M793.5 399V400M794.5 398V399M798.5 396V397M799.5 396V397M800.5 395V396M804.5 393V394M805.5 393V394M806.5 392V393M810.5 391V392M811.5 391V392M812.5 391V392M816.5 390V391M817.5 389V390M818.5 389V390M822.5 388V389M823.5 388V389M824.5 387V388M828.5 386V387M829.5 386V387M830.5 385V386M834.5 384V385M835.5 383V384M836.5 383V384M840.5 381V382M841.5 381V382M842.5 380V381M846.5 379V380M847.5 379V380M848.5 379V380M852.5 378V379M853.5 378V379M854.5 378V379M858.5 377V378M859.5 377V378M860.5 377V378M864.5 378V379M865.5 378V379M866.5 378V379M870.5 379V380M871.5 379V380M872.5 380V381M876.5 382V383M877.5 383V384M878.5 383V384M882.5 386V387M883.5 386V387M884.5 387V388M888.5 388V389M889.5 389V390M890.5 389V390M894.5 391V392M895.5 391V392M896.5 391V392M900.5 392V393M901.5 392V393M902.5 393V394M906.5 393V394M907.5 394V395M908.5 394V395M912.5 394V395M913.5 394V395M914.5 394V395M918.5 394V395M919.5 394V395M920.5 394V395M924.5 395V396M925.5 395V396M926.5 395V396M930.5 396V397M931.5 396V397M932.5 396V397M936.5 397V398M937.5 397V398M938.5 398V399M942.5 399V400M943.5 399V400M944.5 400V401M948.5 401V402M949.5 401V402M950.5 402V403M954.5 403V404M955.5 403V404M956.5 403V404M960.5 402V403M961.5 402V403M962.5 402V403M966.5 401V402M967.5 401V402M968.5 401V402M972.5 399V400M973.5 399V400M974.5 399V400M978.5 398V399M979.5 398V399M980.5 398V399M984.5 397V398M985.5 397V398M986.5 397V398M990.5 397V398M991.5 397V398M992.5 397V398M996.5 398V399M997.5 398V399M998.5 399V400M1002.5 400V401M1003.5 400V401M1004.5 400V401M1008.5 401V402M1009.5 401V402M1010.5 402V403M1014.5 401V402M1015.5 400V401M1016.5 400V401M1020.5 399V400M1021.5 399V400M1022.5 398V399M1026.5 397V398M1027.5 397V398M1028.5 397V398M1032.5 396V397M1033.5 395V396M1034.5 395V396" fill="none" stroke="#ff0000" stroke-width="1"/>
</g>
<text x="9.6" y="370" font-size="10" fill="#000" textLength="155.4" lengthAdjust="spacingAndGlyphs" stroke="#000" stroke-width="0.18">MACD(12,26,9) -0.000826 -0.000426</text>
<rect x="1307" y="358" width="2" height="1" fill="#000"/>
<text x="1309.8" y="368" font-size="10" fill="#000" textLength="38.6" lengthAdjust="spacingAndGlyphs" stroke="#000" stroke-width="0.18">0.002492</text>
<rect x="1307" y="390" width="2" height="1" fill="#000"/>
<text x="1309.5" y="394" font-size="10" fill="#000" textLength="18.6" lengthAdjust="spacingAndGlyphs" stroke="#000" stroke-width="0.18">0.00</text>
<text x="1310.3" y="437" font-size="10" fill="#000" textLength="40.8" lengthAdjust="spacingAndGlyphs" stroke="#000" stroke-width="0.18">-0.003913</text>
<g clip-path="url(#cRsi)">
<line x1="6" y1="476.5" x2="1306" y2="476.5" stroke="#c0c0c0" stroke-width="1" stroke-dasharray="3 3"/>
<line x1="6" y1="520.5" x2="1306" y2="520.5" stroke="#c0c0c0" stroke-width="1" stroke-dasharray="3 3"/>
<path d="M5.5 496V497M6.5 496V497M7.5 494V496M8.5 492V494M9.5 491V492M10.5 490V491M11.5 490V491M12.5 490V491M13.5 490V491M14.5 489V490M15.5 489V490M16.5 488V489M17.5 487V488M18.5 486V487M19.5 485V486M20.5 485V486M21.5 484V485M22.5 484V485M23.5 483V484M24.5 483V484M25.5 483V484M26.5 483V484M27.5 483V484M28.5 484V485M29.5 485V486M30.5 485V486M31.5 484V485M32.5 484V485M33.5 483V484M34.5 483V484M35.5 482V483M36.5 482V483M37.5 481V482M38.5 481V482M39.5 480V481M40.5 478V480M41.5 477V478M42.5 476V477M43.5 475V476M44.5 475V476M45.5 475V476M46.5 475V476M47.5 474V475M48.5 474V475M49.5 474V475M50.5 474V475M51.5 475V476M52.5 475V476M53.5 475V476M54.5 476V477M55.5 476V477M56.5 475V476M57.5 474V475M58.5 474V475M59.5 473V474M60.5 472V473M61.5 472V473M62.5 472V473M63.5 473V474M64.5 474V475M65.5 475V477M66.5 477V478M67.5 476V477M68.5 475V476M69.5 474V475M70.5 473V474M71.5 473V474M72.5 473V474M73.5 473V474M74.5 474V475M75.5 475V476M76.5 476V477M77.5 477V479M78.5 479V482M79.5 482V486M80.5 486V490M81.5 490V493M82.5 493V494M83.5 494V495M84.5 494V495M85.5 494V495M86.5 495V496M87.5 495V496M88.5 495V496M89.5 495V496M90.5 496V497M91.5 497V499M92.5 499V501M93.5 501V503M94.5 503V504M95.5 502V503M96.5 501V502M97.5 501V502M98.5 500V501M99.5 501V503M100.5 503V504M101.5 504V506M102.5 506V508M103.5 508V509M104.5 509V511M105.5 511V513M106.5 513V514M107.5 510V513M108.5 508V510M109.5 506V508M110.5 503V506M111.5 501V503M112.5 498V501M113.5 496V498M114.5 494V496M115.5 493V494M116.5 492V493M117.5 491V492M118.5 490V491M119.5 490V491M120.5 491V492M121.5 491V492M122.5 492V493M123.5 492V493M124.5 492V493M125.5 492V493M126.5 491V492M127.5 491V492M128.5 491V492M129.5 491V492M130.5 491V492M131.5 491V492M132.5 492V493M133.5 492V493M134.5 493V494M135.5 492V493M136.5 491V492M137.5 490V491M138.5 488V490M139.5 490V492M140.5 492V494M141.5 494V496M142.5 496V497M143.5 495V496M144.5 494V495M145.5 493V494M146.5 492V493M147.5 493V494M148.5 493V494M149.5 494V495M150.5 495V496M151.5 495V496M152.5 494V495M153.5 494V495M154.5 495V496M155.5 496V497M156.5 496V497M157.5 497V498M158.5 498V499M159.5 498V499M160.5 497V498M161.5 497V498M162.5 496V497M163.5 497V498M164.5 497V498M165.5 498V500M166.5 500V501M167.5 501V503M168.5 503V505M169.5 505V507M170.5 507V508M171.5 506V507M172.5 506V507M173.5 506V507M174.5 505V508M175.5 508V513M176.5 513V517M177.5 517V522M178.5 522V524M179.5 519V522M180.5 517V519M181.5 514V517M182.5 512V514M183.5 511V512M184.5 510V511M185.5 508V510M186.5 507V508M187.5 506V507M188.5 505V506M189.5 504V505M190.5 503V504M191.5 502V503M192.5 500V502M193.5 498V500M194.5 496V498M195.5 497V498M196.5 497V498M197.5 498V499M198.5 499V500M199.5 498V499M200.5 498V499M201.5 497V498M202.5 497V498M203.5 497V498M204.5 497V498M205.5 497V498M206.5 496V497M207.5 496V497M208.5 496V497M209.5 496V497M210.5 495V497M211.5 491V495M212.5 488V491M213.5 486V488M214.5 484V486M215.5 484V485M216.5 485V486M217.5 485V486M218.5 484V485M219.5 484V485M220.5 483V484M221.5 482V483M222.5 482V484M223.5 484V486M224.5 486V488M225.5 488V490M226.5 490V491M227.5 489V490M228.5 488V489M229.5 488V489M230.5 487V489M231.5 489V491M232.5 491V493M233.5 493V494M234.5 494V495M235.5 493V494M236.5 493V494M237.5 492V493M238.5 492V493M239.5 492V493M240.5 492V493M241.5 492V493M242.5 491V492M243.5 489V491M244.5 487V489M245.5 485V487M246.5 483V485M247.5 482V483M248.5 481V482M249.5 481V482M250.5 481V482M251.5 481V482M252.5 482V483M253.5 482V483M254.5 483V484M255.5 484V485M256.5 484V485M257.5 485V486M258.5 485V486M259.5 484V485M260.5 484V485M261.5 483V484M262.5 483V484M263.5 482V483M264.5 482V483M265.5 482V483M266.5 482V483M267.5 482V483M268.5 482V483M269.5 482V483M270.5 482V483M271.5 482V483M272.5 481V482M273.5 480V481M274.5 480V481M275.5 481V483M276.5 483V484M277.5 484V485M278.5 485V487M279.5 487V488M280.5 488V489M281.5 489V490M282.5 490V491M283.5 491V492M284.5 491V492M285.5 491V492M286.5 492V493M287.5 493V495M288.5 495V497M289.5 497V499M290.5 499V500M291.5 499V500M292.5 499V500M293.5 499V500M294.5 498V500M295.5 495V498M296.5 492V495M297.5 489V492M298.5 488V490M299.5 490V492M300.5 492V495M301.5 495V498M302.5 498V499M303.5 498V499M304.5 497V498M305.5 497V498M306.5 497V499M307.5 499V501M308.5 501V504M309.5 504V505M310.5 505V506M311.5 504V505M312.5 502V504M313.5 500V502M314.5 499V500M315.5 500V501M316.5 501V502M317.5 502V503M318.5 503V504M319.5 502V503M320.5 501V502M321.5 500V501M322.5 499V500M323.5 500V501M324.5 501V502M325.5 502V503M326.5 503V504M327.5 502V503M328.5 502V503M329.5 501V502M330.5 500V501M331.5 500V501M332.5 500V501M333.5 501V502M334.5 501V502M335.5 500V501M336.5 500V501M337.5 499V500M338.5 499V500M339.5 499V500M340.5 500V501M341.5 500V501M342.5 501V502M343.5 499V501M344.5 497V499M345.5 495V497M346.5 495V498M347.5 498V502M348.5 502V506M349.5 506V509M350.5 509V510M351.5 509V510M352.5 508V509M353.5 508V509M354.5 507V508M355.5 508V510M356.5 510V511M357.5 511V513M358.5 513V514M359.5 513V514M360.5 513V514M361.5 512V513M362.5 512V513M363.5 512V513M364.5 512V513M365.5 512V513M366.5 513V514M367.5 514V515M368.5 515V516M369.5 516V518M370.5 518V519M371.5 518V519M372.5 519V520M373.5 519V520M374.5 520V521M375.5 520V521M376.5 521V522M377.5 521V522M378.5 522V523M379.5 522V523M380.5 522V523M381.5 523V524M382.5 523V524M383.5 523V524M384.5 524V525M385.5 524V525M386.5 525V526M387.5 525V526M388.5 524V525M389.5 524V525M390.5 524V525M391.5 524V525M392.5 523V524M393.5 523V524M394.5 523V524M395.5 522V523M396.5 522V523M397.5 521V522M398.5 521V522M399.5 520V521M400.5 520V521M401.5 519V520M402.5 519V520M403.5 517V519M404.5 516V517M405.5 514V516M406.5 513V514M407.5 513V514M408.5 513V514M409.5 513V514M410.5 514V515M411.5 514V515M412.5 515V516M413.5 515V516M414.5 516V517M415.5 514V516M416.5 512V514M417.5 511V512M418.5 509V511M419.5 509V510M420.5 509V510M421.5 508V509M422.5 508V509M423.5 508V509M424.5 508V509M425.5 508V509M426.5 509V510M427.5 509V510M428.5 510V511M429.5 511V512M430.5 512V513M431.5 512V513M432.5 512V513M433.5 513V514M434.5 513V514M435.5 513V514M436.5 513V514M437.5 514V515M438.5 514V515M439.5 513V514M440.5 512V513M441.5 511V512M442.5 510V511M443.5 509V510M444.5 509V510M445.5 508V509M446.5 507V508M447.5 507V508M448.5 507V508M449.5 508V509M450.5 508V509M451.5 508V509M452.5 509V510M453.5 509V510M454.5 509V510M455.5 510V511M456.5 510V511M457.5 511V512M458.5 511V512M459.5 510V511M460.5 509V510M461.5 509V510M462.5 507V509M463.5 503V507M464.5 499V503M465.5 496V499M466.5 494V496M467.5 493V494M468.5 493V494M469.5 493V494M470.5 492V493M471.5 492V493M472.5 492V493M473.5 492V493M474.5 492V493M475.5 492V493M476.5 492V493M477.5 492V493M478.5 492V493M479.5 490V492M480.5 489V490M481.5 488V489M482.5 487V489M483.5 489V492M484.5 492V494M485.5 494V496M486.5 496V497M487.5 496V497M488.5 496V497M489.5 497V498M490.5 496V497M491.5 494V496M492.5 492V494M493.5 490V492M494.5 488V490M495.5 488V489M496.5 488V489M497.5 488V489M498.5 488V489M499.5 487V488M500.5 487V488M501.5 486V487M502.5 486V487M503.5 487V488M504.5 488V489M505.5 489V490M506.5 490V491M507.5 490V491M508.5 490V491M509.5 490V491M510.5 489V490M511.5 488V489M512.5 487V488M513.5 486V487M514.5 485V486M515.5 485V486M516.5 486V487M517.5 486V487M518.5 487V488M519.5 487V488M520.5 488V489M521.5 489V490M522.5 489V490M523.5 490V491M524.5 491V492M525.5 491V492M526.5 492V493M527.5 491V492M528.5 490V491M529.5 490V491M530.5 489V490M531.5 489V490M532.5 490V491M533.5 491V492M534.5 492V493M535.5 492V493M536.5 493V494M537.5 494V495M538.5 495V496M539.5 494V495M540.5 493V494M541.5 491V493M542.5 490V491M543.5 488V490M544.5 487V488M545.5 486V487M546.5 486V491M547.5 491V498M548.5 498V506M549.5 506V513M550.5 513V517M551.5 516V517M552.5 516V517M553.5 516V517M554.5 516V517M555.5 516V517M556.5 516V517M557.5 516V517M558.5 514V516M559.5 510V514M560.5 507V510M561.5 503V507M562.5 501V503M563.5 502V503M564.5 502V503M565.5 502V503M566.5 502V503M567.5 502V503M568.5 502V503M569.5 502V503M570.5 502V503M571.5 501V502M572.5 501V502M573.5 500V501M574.5 500V501M575.5 501V502M576.5 502V503M577.5 502V503M578.5 503V504M579.5 501V503M580.5 500V501M581.5 499V500M582.5 498V499M583.5 498V499M584.5 498V499M585.5 498V499M586.5 497V498M587.5 495V497M588.5 493V495M589.5 491V493M590.5 490V491M591.5 489V490M592.5 489V490M593.5 489V490M594.5 488V489M595.5 488V489M596.5 488V489M597.5 487V488M598.5 488V490M599.5 490V492M600.5 492V494M601.5 494V496M602.5 496V497M603.5 497V498M604.5 496V497M605.5 496V497M606.5 496V497M607.5 495V496M608.5 494V495M609.5 492V494M610.5 491V492M611.5 492V494M612.5 494V496M613.5 496V498M614.5 498V499M615.5 497V498M616.5 497V498M617.5 496V497M618.5 495V496M619.5 495V496M620.5 494V495M621.5 493V494M622.5 494V496M623.5 496V498M624.5 498V499M625.5 499V501M626.5 501V502M627.5 502V503M628.5 503V504M629.5 503V504M630.5 504V505M631.5 505V506M632.5 506V508M633.5 508V509M634.5 509V510M635.5 508V509M636.5 506V508M637.5 505V506M638.5 504V505M639.5 502V504M640.5 501V502M641.5 499V501M642.5 498V499M643.5 498V499M644.5 497V498M645.5 497V498M646.5 496V497M647.5 495V496M648.5 494V495M649.5 492V494M650.5 491V492M651.5 490V491M652.5 490V491M653.5 490V491M654.5 490V491M655.5 491V493M656.5 493V494M657.5 494V495M658.5 495V496M659.5 494V495M660.5 493V494M661.5 491V493M662.5 490V491M663.5 491V493M664.5 493V494M665.5 494V496M666.5 496V497M667.5 496V497M668.5 497V498M669.5 497V498M670.5 498V499M671.5 499V500M672.5 499V500M673.5 500V501M674.5 501V502M675.5 500V501M676.5 500V501M677.5 499V500M678.5 499V500M679.5 498V499M680.5 497V498M681.5 497V498M682.5 496V499M683.5 499V504M684.5 504V509M685.5 509V514M686.5 514V517M687.5 515V516M688.5 514V515M689.5 513V514M690.5 512V513M691.5 511V512M692.5 510V511M693.5 509V510M694.5 508V509M695.5 508V509M696.5 508V509M697.5 509V510M698.5 509V510M699.5 509V510M700.5 509V510M701.5 509V510M702.5 509V510M703.5 508V509M704.5 507V508M705.5 506V507M706.5 505V506M707.5 506V507M708.5 506V507M709.5 507V508M710.5 508V509M711.5 508V509M712.5 509V510M713.5 509V510M714.5 510V511M715.5 511V513M716.5 513V514M717.5 514V516M718.5 516V517M719.5 517V518M720.5 518V519M721.5 518V519M722.5 519V520M723.5 518V519M724.5 517V518M725.5 516V517M726.5 514V516M727.5 513V514M728.5 512V513M729.5 511V512M730.5 510V511M731.5 510V511M732.5 511V512M733.5 511V512M734.5 512V513M735.5 511V512M736.5 511V512M737.5 511V512M738.5 510V511M739.5 510V511M740.5 510V511M741.5 509V510M742.5 509V510M743.5 509V510M744.5 510V511M745.5 510V511M746.5 510V511M747.5 510V511M748.5 510V511M749.5 510V511M750.5 510V511M751.5 511V513M752.5 513V514M753.5 514V515M754.5 513V515M755.5 510V513M756.5 507V510M757.5 505V507M758.5 503V505M759.5 501V503M760.5 500V501M761.5 498V500M762.5 497V498M763.5 496V497M764.5 496V497M765.5 495V496M766.5 495V496M767.5 495V496M768.5 495V496M769.5 495V496M770.5 495V496M771.5 495V496M772.5 494V495M773.5 494V495M774.5 493V494M775.5 493V494M776.5 492V493M777.5 491V492M778.5 490V491M779.5 491V492M780.5 492V493M781.5 493V494M782.5 494V495M783.5 495V496M784.5 496V497M785.5 497V498M786.5 498V499M787.5 497V498M788.5 496V497M789.5 496V497M790.5 495V496M791.5 495V496M792.5 494V495M793.5 493V494M794.5 493V494M795.5 493V494M796.5 493V494M797.5 493V494M798.5 493V495M799.5 495V496M800.5 496V498M801.5 498V499M802.5 499V500M803.5 497V499M804.5 496V497M805.5 495V496M806.5 494V495M807.5 494V495M808.5 494V495M809.5 494V495M810.5 494V495M811.5 494V495M812.5 494V495M813.5 495V496M814.5 495V496M815.5 494V495M816.5 493V494M817.5 492V493M818.5 492V493M819.5 491V492M820.5 491V492M821.5 490V491M822.5 490V491M823.5 488V490M824.5 486V488M825.5 484V486M826.5 482V484M827.5 482V483M828.5 481V482M829.5 480V481M830.5 480V482M831.5 482V483M832.5 483V485M833.5 485V486M834.5 486V487M835.5 485V486M836.5 484V485M837.5 483V484M838.5 482V483M839.5 482V483M840.5 482V483M841.5 482V483M842.5 482V483M843.5 483V484M844.5 483V484M845.5 483V485M846.5 485V487M847.5 487V489M848.5 489V492M849.5 492V494M850.5 494V497M851.5 497V500M852.5 500V502M853.5 502V504M854.5 504V505M855.5 503V504M856.5 501V503M857.5 499V501M858.5 498V500M859.5 500V501M860.5 501V503M861.5 503V504M862.5 504V505M863.5 504V505M864.5 504V505M865.5 504V505M866.5 504V505M867.5 503V504M868.5 502V503M869.5 501V502M870.5 501V502M871.5 502V504M872.5 504V506M873.5 506V508M874.5 508V509M875.5 507V508M876.5 506V507M877.5 504V506M878.5 503V504M879.5 503V504M880.5 502V503M881.5 502V503M882.5 501V502M883.5 501V502M884.5 501V502M885.5 502V503M886.5 502V503M887.5 503V504M888.5 503V504M889.5 504V505M890.5 505V506M891.5 504V505M892.5 504V505M893.5 503V504M894.5 502V503M895.5 502V503M896.5 501V502M897.5 500V501M898.5 501V502M899.5 502V503M900.5 503V504M901.5 504V506M902.5 506V507M903.5 504V506M904.5 503V504M905.5 501V503M906.5 499V501M907.5 498V499M908.5 496V498M909.5 495V496M910.5 494V495M911.5 493V494M912.5 493V494M913.5 492V493M914.5 492V494M915.5 494V496M916.5 496V498M917.5 498V501M918.5 501V504M919.5 504V507M920.5 507V511M921.5 511V514M922.5 514V516M923.5 511V514M924.5 508V511M925.5 505V508M926.5 503V505M927.5 502V503M928.5 500V502M929.5 499V500M930.5 497V499M931.5 499V502M932.5 502V505M933.5 505V508M934.5 508V510M935.5 509V510M936.5 509V510M937.5 509V510M938.5 509V510M939.5 509V510M940.5 509V510M941.5 508V509M942.5 508V509M943.5 506V508M944.5 504V506M945.5 502V504M946.5 500V502M947.5 500V501M948.5 500V501M949.5 499V500M950.5 499V500M951.5 499V500M952.5 499V500M953.5 500V501M954.5 500V501M955.5 497V500M956.5 495V497M957.5 493V495M958.5 491V493M959.5 492V493M960.5 492V493M961.5 493V494M962.5 494V495M963.5 493V494M964.5 493V494M965.5 493V494M966.5 492V493M967.5 492V493M968.5 492V493M969.5 492V493M970.5 492V495M971.5 495V499M972.5 499V503M973.5 503V507M974.5 507V509M975.5 506V508M976.5 505V506M977.5 503V505M978.5 502V503M979.5 503V504M980.5 503V504M981.5 504V505M982.5 505V506M983.5 506V507M984.5 506V507M985.5 507V508M986.5 508V509M987.5 508V509M988.5 508V509M989.5 508V509M990.5 508V509M991.5 507V508M992.5 507V508M993.5 506V507M994.5 505V506M995.5 504V505M996.5 502V504M997.5 501V502M998.5 499V501M999.5 498V499M1000.5 496V498M1001.5 495V496M1002.5 494V495M1003.5 495V497M1004.5 497V498M1005.5 498V499M1006.5 499V500M1007.5 496V499M1008.5 494V496M1009.5 492V494M1010.5 490V492M1011.5 491V493M1012.5 493V494M1013.5 494V495M1014.5 495V496M1015.5 495V496M1016.5 495V496M1017.5 495V496M1018.5 495V496M1019.5 496V498M1020.5 498V499M1021.5 499V500M1022.5 500V502M1023.5 502V505M1024.5 505V507M1025.5 507V508M1026.5 508V509M1027.5 505V508M1028.5 503V505M1029.5 501V503M1030.5 499V501M1031.5 500V502M1032.5 502V503M1033.5 503V504M1034.5 504V505M1035.5 503V504M1036.5 503V504M1037.5 502V503" fill="none" stroke="#1e90ff" stroke-width="1"/>
</g>
<text x="10" y="455" font-size="10" fill="#000" textLength="68.6" lengthAdjust="spacingAndGlyphs" stroke="#000" stroke-width="0.18">RSI(14) 46.9008</text>
<text x="1309.8" y="453" font-size="10" fill="#000" textLength="15.6" lengthAdjust="spacingAndGlyphs" stroke="#000" stroke-width="0.18">100</text>
<text x="1309" y="480" font-size="10" fill="#000" textLength="10.5" lengthAdjust="spacingAndGlyphs" stroke="#000" stroke-width="0.18">70</text>
<text x="1309" y="524" font-size="10" fill="#000" textLength="10.5" lengthAdjust="spacingAndGlyphs" stroke="#000" stroke-width="0.18">30</text>
<text x="1309.6" y="550" font-size="10" fill="#000" textLength="5.6" lengthAdjust="spacingAndGlyphs" stroke="#000" stroke-width="0.18">0</text>
<rect x="1307" y="443" width="2" height="1" fill="#000"/>
<rect x="1307" y="552" width="2" height="1" fill="#000"/>
<rect x="1307" y="438" width="2" height="1" fill="#000"/>
<rect x="6" y="554" width="1" height="3" fill="#000"/>
<text x="5" y="566" font-size="10" fill="#000" textLength="51.5" lengthAdjust="spacingAndGlyphs" stroke="#000" stroke-width="0.18">29 Oct 2018</text>
<rect x="70" y="554" width="1" height="3" fill="#000"/>
<text x="69" y="566" font-size="10" fill="#000" textLength="52.4" lengthAdjust="spacingAndGlyphs" stroke="#000" stroke-width="0.18">1 Nov 00:00</text>
<rect x="134" y="554" width="1" height="3" fill="#000"/>
<text x="133" y="566" font-size="10" fill="#000" textLength="52.4" lengthAdjust="spacingAndGlyphs" stroke="#000" stroke-width="0.18">5 Nov 19:00</text>
<rect x="198" y="554" width="1" height="3" fill="#000"/>
<text x="197" y="566" font-size="10" fill="#000" textLength="52.4" lengthAdjust="spacingAndGlyphs" stroke="#000" stroke-width="0.18">8 Nov 11:00</text>
<rect x="262" y="554" width="1" height="3" fill="#000"/>
<text x="261" y="566" font-size="10" fill="#000" textLength="57.3" lengthAdjust="spacingAndGlyphs" stroke="#000" stroke-width="0.18">13 Nov 00:00</text>
<rect x="326" y="554" width="1" height="3" fill="#000"/>
<text x="325" y="566" font-size="10" fill="#000" textLength="57.3" lengthAdjust="spacingAndGlyphs" stroke="#000" stroke-width="0.18">15 Nov 19:00</text>
<rect x="390" y="554" width="1" height="3" fill="#000"/>
<text x="389" y="566" font-size="10" fill="#000" textLength="57.3" lengthAdjust="spacingAndGlyphs" stroke="#000" stroke-width="0.18">20 Nov 11:00</text>
<rect x="454" y="554" width="1" height="3" fill="#000"/>
<text x="453" y="566" font-size="10" fill="#000" textLength="57.3" lengthAdjust="spacingAndGlyphs" stroke="#000" stroke-width="0.18">23 Nov 00:00</text>
<rect x="518" y="554" width="1" height="3" fill="#000"/>
<text x="517" y="566" font-size="10" fill="#000" textLength="57.3" lengthAdjust="spacingAndGlyphs" stroke="#000" stroke-width="0.18">27 Nov 19:00</text>
<rect x="582" y="554" width="1" height="3" fill="#000"/>
<text x="581" y="566" font-size="10" fill="#000" textLength="57.3" lengthAdjust="spacingAndGlyphs" stroke="#000" stroke-width="0.18">30 Nov 11:00</text>
<rect x="646" y="554" width="1" height="3" fill="#000"/>
<text x="645" y="566" font-size="10" fill="#000" textLength="50" lengthAdjust="spacingAndGlyphs" stroke="#000" stroke-width="0.18">5 Dec 00:00</text>
<rect x="710" y="554" width="1" height="3" fill="#000"/>
<text x="709" y="566" font-size="10" fill="#000" textLength="50" lengthAdjust="spacingAndGlyphs" stroke="#000" stroke-width="0.18">7 Dec 19:00</text>
<rect x="774" y="554" width="1" height="3" fill="#000"/>
<text x="773" y="566" font-size="10" fill="#000" textLength="54.9" lengthAdjust="spacingAndGlyphs" stroke="#000" stroke-width="0.18">12 Dec 11:00</text>
<rect x="838" y="554" width="1" height="3" fill="#000"/>
<text x="837" y="566" font-size="10" fill="#000" textLength="54.9" lengthAdjust="spacingAndGlyphs" stroke="#000" stroke-width="0.18">15 Dec 00:00</text>
<rect x="902" y="554" width="1" height="3" fill="#000"/>
<text x="901" y="566" font-size="10" fill="#000" textLength="54.9" lengthAdjust="spacingAndGlyphs" stroke="#000" stroke-width="0.18">19 Dec 19:00</text>
<rect x="966" y="554" width="1" height="3" fill="#000"/>
<text x="965" y="566" font-size="10" fill="#000" textLength="54.9" lengthAdjust="spacingAndGlyphs" stroke="#000" stroke-width="0.18">24 Dec 11:00</text>
<rect x="1030" y="554" width="1" height="3" fill="#000"/>
<text x="1029" y="566" font-size="10" fill="#000" textLength="54.9" lengthAdjust="spacingAndGlyphs" stroke="#000" stroke-width="0.18">27 Dec 23:00</text>
</svg>
</body></html>
